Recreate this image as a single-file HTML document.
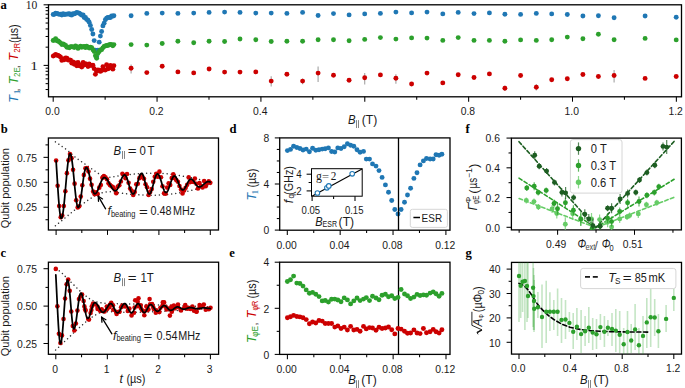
<!DOCTYPE html><html><head><meta charset="utf-8"><style>html,body{margin:0;padding:0;background:#fff;overflow:hidden}svg{display:block}</style></head><body>
<svg width="685" height="388" viewBox="0 0 685 388">
<rect width="685" height="388" fill="#fff"/>
<rect x="48.5" y="4.8" width="633" height="92" fill="none" stroke="#000" stroke-width="1.3"/>
<line x1="53.2" y1="96.8" x2="53.2" y2="101.7" stroke="#000" stroke-width="1.05" />
<line x1="105.13" y1="96.8" x2="105.13" y2="99.7" stroke="#000" stroke-width="1.05" />
<line x1="157.06" y1="96.8" x2="157.06" y2="101.7" stroke="#000" stroke-width="1.05" />
<line x1="208.99" y1="96.8" x2="208.99" y2="99.7" stroke="#000" stroke-width="1.05" />
<line x1="260.92" y1="96.8" x2="260.92" y2="101.7" stroke="#000" stroke-width="1.05" />
<line x1="312.85" y1="96.8" x2="312.85" y2="99.7" stroke="#000" stroke-width="1.05" />
<line x1="364.78" y1="96.8" x2="364.78" y2="101.7" stroke="#000" stroke-width="1.05" />
<line x1="416.71" y1="96.8" x2="416.71" y2="99.7" stroke="#000" stroke-width="1.05" />
<line x1="468.64" y1="96.8" x2="468.64" y2="101.7" stroke="#000" stroke-width="1.05" />
<line x1="520.57" y1="96.8" x2="520.57" y2="99.7" stroke="#000" stroke-width="1.05" />
<line x1="572.5" y1="96.8" x2="572.5" y2="101.7" stroke="#000" stroke-width="1.05" />
<line x1="624.43" y1="96.8" x2="624.43" y2="99.7" stroke="#000" stroke-width="1.05" />
<line x1="676.36" y1="96.8" x2="676.36" y2="101.7" stroke="#000" stroke-width="1.05" />
<line x1="43.6" y1="4.8" x2="48.5" y2="4.8" stroke="#000" stroke-width="1.05" />
<line x1="43.6" y1="65.4" x2="48.5" y2="65.4" stroke="#000" stroke-width="1.05" />
<line x1="45.6" y1="47.16" x2="48.5" y2="47.16" stroke="#000" stroke-width="1.05" />
<line x1="45.6" y1="36.49" x2="48.5" y2="36.49" stroke="#000" stroke-width="1.05" />
<line x1="45.6" y1="28.92" x2="48.5" y2="28.92" stroke="#000" stroke-width="1.05" />
<line x1="45.6" y1="23.04" x2="48.5" y2="23.04" stroke="#000" stroke-width="1.05" />
<line x1="45.6" y1="18.24" x2="48.5" y2="18.24" stroke="#000" stroke-width="1.05" />
<line x1="45.6" y1="14.19" x2="48.5" y2="14.19" stroke="#000" stroke-width="1.05" />
<line x1="45.6" y1="10.67" x2="48.5" y2="10.67" stroke="#000" stroke-width="1.05" />
<line x1="45.6" y1="7.57" x2="48.5" y2="7.57" stroke="#000" stroke-width="1.05" />
<line x1="45.6" y1="89.52" x2="48.5" y2="89.52" stroke="#000" stroke-width="1.05" />
<line x1="45.6" y1="83.64" x2="48.5" y2="83.64" stroke="#000" stroke-width="1.05" />
<line x1="45.6" y1="78.84" x2="48.5" y2="78.84" stroke="#000" stroke-width="1.05" />
<line x1="45.6" y1="74.79" x2="48.5" y2="74.79" stroke="#000" stroke-width="1.05" />
<line x1="45.6" y1="71.27" x2="48.5" y2="71.27" stroke="#000" stroke-width="1.05" />
<line x1="45.6" y1="68.17" x2="48.5" y2="68.17" stroke="#000" stroke-width="1.05" />
<text transform="translate(52.5 115.1) scale(0.9 1)" text-anchor="middle" font-family='"Liberation Sans", sans-serif' font-size="11.5" font-weight="normal" fill="#1a1a1a"  id="t1">0.0</text>
<text transform="translate(156.36 115.1) scale(0.9 1)" text-anchor="middle" font-family='"Liberation Sans", sans-serif' font-size="11.5" font-weight="normal" fill="#1a1a1a"  id="t2">0.2</text>
<text transform="translate(260.22 115.1) scale(0.9 1)" text-anchor="middle" font-family='"Liberation Sans", sans-serif' font-size="11.5" font-weight="normal" fill="#1a1a1a"  id="t3">0.4</text>
<text transform="translate(467.94 115.1) scale(0.9 1)" text-anchor="middle" font-family='"Liberation Sans", sans-serif' font-size="11.5" font-weight="normal" fill="#1a1a1a"  id="t4">0.8</text>
<text transform="translate(571.8 115.1) scale(0.9 1)" text-anchor="middle" font-family='"Liberation Sans", sans-serif' font-size="11.5" font-weight="normal" fill="#1a1a1a"  id="t5">1.0</text>
<text transform="translate(675.66 115.1) scale(0.9 1)" text-anchor="middle" font-family='"Liberation Sans", sans-serif' font-size="11.5" font-weight="normal" fill="#1a1a1a"  id="t6">1.2</text>
<text transform="translate(37.4 9.2)" text-anchor="end" font-family='"Liberation Serif", serif' font-size="11.6" font-weight="normal" fill="#1a1a1a"  id="t7">10</text>
<text transform="translate(37.9 69.9) scale(1.3 1)" text-anchor="end" font-family='"Liberation Serif", serif' font-size="11.8" font-weight="normal" fill="#1a1a1a"  id="t8">1</text>
<text transform="translate(348 123.7) scale(0.95 1)" text-anchor="start" font-family='"Liberation Sans", sans-serif' font-size="12.0" font-weight="normal" fill="#1a1a1a" font-style="italic"  id="t9">B</text>
<line x1="356.5" y1="120.1" x2="356.5" y2="128.02" stroke="#666" stroke-width="0.8" />
<line x1="358.5" y1="120.1" x2="358.5" y2="128.02" stroke="#666" stroke-width="0.8" />
<text transform="translate(361.8 123.7) scale(0.95 1)" text-anchor="start" font-family='"Liberation Sans", sans-serif' font-size="12.8" font-weight="normal" fill="#1a1a1a"  id="t10">(T)</text>
<text transform="translate(0.5 8.7)" text-anchor="start" font-family='"Liberation Serif", serif' font-size="12.6" font-weight="bold" fill="#000"  id="t11">a</text>
<text transform="translate(18.3 102.8) rotate(-90)" text-anchor="start" font-family='"Liberation Sans", sans-serif' font-size="12.6" font-weight="normal" fill="#1f77b4" font-style="italic"  id="t12">T</text>
<text transform="translate(20.3 94.6) rotate(-90) scale(1.15 1)" text-anchor="start" font-family='"Liberation Serif", serif' font-size="9.0" font-weight="normal" fill="#1f77b4"  id="t13">1</text>
<text transform="translate(19.4 91.4) rotate(-90)" text-anchor="start" font-family='"Liberation Sans", sans-serif' font-size="11" font-weight="normal" fill="#333"  id="t14">,</text>
<text transform="translate(18.3 84.2) rotate(-90)" text-anchor="start" font-family='"Liberation Sans", sans-serif' font-size="12.6" font-weight="normal" fill="#2ca02c" font-style="italic"  id="t15">T</text>
<text transform="translate(20.4 77) rotate(-90) scale(0.95 1)" text-anchor="start" font-family='"Liberation Sans", sans-serif' font-size="8.3" font-weight="normal" fill="#2ca02c"  id="t16">2E</text>
<text transform="translate(19.4 68.2) rotate(-90)" text-anchor="start" font-family='"Liberation Sans", sans-serif' font-size="11" font-weight="normal" fill="#333"  id="t17">,</text>
<text transform="translate(18.3 60.8) rotate(-90)" text-anchor="start" font-family='"Liberation Sans", sans-serif' font-size="12.6" font-weight="normal" fill="#cc0000" font-style="italic"  id="t18">T</text>
<text transform="translate(20.4 52.8) rotate(-90) scale(0.95 1)" text-anchor="start" font-family='"Liberation Sans", sans-serif' font-size="8.3" font-weight="normal" fill="#cc0000"  id="t19">2R</text>
<text transform="translate(18.4 43) rotate(-90) scale(0.86 1)" text-anchor="start" font-family='"Liberation Sans", sans-serif' font-size="12.4" font-weight="normal" fill="#1a1a1a"  id="t20">(µs)</text>
<line x1="131.1" y1="64.4" x2="131.1" y2="73.4" stroke="#aaaaaa" stroke-width="1.2" />
<line x1="271.2" y1="76.2" x2="271.2" y2="86.5" stroke="#aaaaaa" stroke-width="1.2" />
<line x1="302.6" y1="78.5" x2="302.6" y2="84.2" stroke="#aaaaaa" stroke-width="1.2" />
<line x1="318.1" y1="66.4" x2="318.1" y2="81.9" stroke="#aaaaaa" stroke-width="1.2" />
<line x1="364.7" y1="73.1" x2="364.7" y2="84.5" stroke="#aaaaaa" stroke-width="1.2" />
<line x1="395.9" y1="74.2" x2="395.9" y2="83.7" stroke="#aaaaaa" stroke-width="1.2" />
<line x1="614.1" y1="70.1" x2="614.1" y2="82.5" stroke="#aaaaaa" stroke-width="1.2" />
<line x1="536.3" y1="84" x2="536.3" y2="90.5" stroke="#aaaaaa" stroke-width="1.2" />
<line x1="504.9" y1="85.5" x2="504.9" y2="91" stroke="#aaaaaa" stroke-width="1.2" />
<circle cx="53.2" cy="14.57" r="2.45" fill="#1f77b4" />
<circle cx="54.42" cy="14.18" r="2.45" fill="#1f77b4" />
<circle cx="55.64" cy="13.16" r="2.45" fill="#1f77b4" />
<circle cx="56.89" cy="13.57" r="2.45" fill="#1f77b4" />
<circle cx="58.11" cy="13.89" r="2.45" fill="#1f77b4" />
<circle cx="59.33" cy="14.38" r="2.45" fill="#1f77b4" />
<circle cx="60.59" cy="14.08" r="2.45" fill="#1f77b4" />
<circle cx="61.84" cy="14.94" r="2.45" fill="#1f77b4" />
<circle cx="63.1" cy="13.79" r="2.45" fill="#1f77b4" />
<circle cx="64.36" cy="14.47" r="2.45" fill="#1f77b4" />
<circle cx="65.62" cy="14.28" r="2.45" fill="#1f77b4" />
<circle cx="66.87" cy="14.08" r="2.45" fill="#1f77b4" />
<circle cx="68.05" cy="13.98" r="2.45" fill="#1f77b4" />
<circle cx="69.31" cy="13.69" r="2.45" fill="#1f77b4" />
<circle cx="70.57" cy="14.87" r="2.45" fill="#1f77b4" />
<circle cx="71.82" cy="15.04" r="2.45" fill="#1f77b4" />
<circle cx="73" cy="13.69" r="2.45" fill="#1f77b4" />
<circle cx="74.26" cy="13.89" r="2.45" fill="#1f77b4" />
<circle cx="75.52" cy="13.34" r="2.45" fill="#1f77b4" />
<circle cx="76.77" cy="12.41" r="2.45" fill="#1f77b4" />
<circle cx="78.03" cy="12.87" r="2.45" fill="#1f77b4" />
<circle cx="79.29" cy="13.16" r="2.45" fill="#1f77b4" />
<circle cx="80.55" cy="14.28" r="2.45" fill="#1f77b4" />
<circle cx="81.76" cy="15.14" r="2.45" fill="#1f77b4" />
<circle cx="83.1" cy="14.84" r="2.45" fill="#1f77b4" />
<circle cx="84.2" cy="17.55" r="2.45" fill="#1f77b4" />
<circle cx="85.46" cy="17.55" r="2.45" fill="#1f77b4" />
<circle cx="86.64" cy="19.39" r="2.45" fill="#1f77b4" />
<circle cx="88.01" cy="20.28" r="2.45" fill="#1f77b4" />
<circle cx="89.19" cy="22.2" r="2.45" fill="#1f77b4" />
<circle cx="90.41" cy="25.39" r="2.45" fill="#1f77b4" />
<circle cx="91.7" cy="29.43" r="2.45" fill="#1f77b4" />
<circle cx="92.92" cy="34.07" r="2.45" fill="#1f77b4" />
<circle cx="94.18" cy="40.58" r="2.45" fill="#1f77b4" />
<circle cx="95.4" cy="50.12" r="2.45" fill="#1f77b4" />
<circle cx="96.66" cy="56.6" r="2.45" fill="#1f77b4" />
<circle cx="97.87" cy="50.12" r="2.45" fill="#1f77b4" />
<circle cx="99.21" cy="42.13" r="2.45" fill="#1f77b4" />
<circle cx="100.39" cy="36.09" r="2.45" fill="#1f77b4" />
<circle cx="101.61" cy="31.43" r="2.45" fill="#1f77b4" />
<circle cx="102.9" cy="25.9" r="2.45" fill="#1f77b4" />
<circle cx="104.12" cy="23.15" r="2.45" fill="#1f77b4" />
<circle cx="105.34" cy="19.79" r="2.45" fill="#1f77b4" />
<circle cx="106.63" cy="18.23" r="2.45" fill="#1f77b4" />
<circle cx="107.85" cy="17.33" r="2.45" fill="#1f77b4" />
<circle cx="109.27" cy="17.51" r="2.45" fill="#1f77b4" />
<circle cx="110.49" cy="17.51" r="2.45" fill="#1f77b4" />
<circle cx="111.59" cy="15.97" r="2.45" fill="#1f77b4" />
<circle cx="112.8" cy="16.14" r="2.45" fill="#1f77b4" />
<circle cx="113.9" cy="15.79" r="2.45" fill="#1f77b4" />
<circle cx="131.1" cy="15.7" r="2.45" fill="#1f77b4" />
<circle cx="146.8" cy="13.4" r="2.45" fill="#1f77b4" />
<circle cx="162.2" cy="13.1" r="2.45" fill="#1f77b4" />
<circle cx="177.9" cy="13.4" r="2.45" fill="#1f77b4" />
<circle cx="193.7" cy="13.1" r="2.45" fill="#1f77b4" />
<circle cx="209.1" cy="12.4" r="2.45" fill="#1f77b4" />
<circle cx="224.6" cy="12.1" r="2.45" fill="#1f77b4" />
<circle cx="240" cy="12.4" r="2.45" fill="#1f77b4" />
<circle cx="255.8" cy="13.1" r="2.45" fill="#1f77b4" />
<circle cx="271.2" cy="13.1" r="2.45" fill="#1f77b4" />
<circle cx="286.9" cy="13.4" r="2.45" fill="#1f77b4" />
<circle cx="302.6" cy="12.4" r="2.45" fill="#1f77b4" />
<circle cx="318.1" cy="15.5" r="2.45" fill="#1f77b4" />
<circle cx="333.5" cy="13.6" r="2.45" fill="#1f77b4" />
<circle cx="349.1" cy="14.9" r="2.45" fill="#1f77b4" />
<circle cx="364.7" cy="13.9" r="2.45" fill="#1f77b4" />
<circle cx="380.4" cy="13.4" r="2.45" fill="#1f77b4" />
<circle cx="395.9" cy="12.1" r="2.45" fill="#1f77b4" />
<circle cx="411.6" cy="12.9" r="2.45" fill="#1f77b4" />
<circle cx="427" cy="12.1" r="2.45" fill="#1f77b4" />
<circle cx="442.8" cy="13.9" r="2.45" fill="#1f77b4" />
<circle cx="458.2" cy="12.4" r="2.45" fill="#1f77b4" />
<circle cx="474" cy="13.6" r="2.45" fill="#1f77b4" />
<circle cx="489.4" cy="12.9" r="2.45" fill="#1f77b4" />
<circle cx="504.9" cy="14.2" r="2.45" fill="#1f77b4" />
<circle cx="520.6" cy="14.4" r="2.45" fill="#1f77b4" />
<circle cx="536.3" cy="13.4" r="2.45" fill="#1f77b4" />
<circle cx="551.7" cy="13.9" r="2.45" fill="#1f77b4" />
<circle cx="567.3" cy="14.5" r="2.45" fill="#1f77b4" />
<circle cx="582.9" cy="16" r="2.45" fill="#1f77b4" />
<circle cx="598.4" cy="15.7" r="2.45" fill="#1f77b4" />
<circle cx="614.1" cy="17.8" r="2.45" fill="#1f77b4" />
<circle cx="645.1" cy="16" r="2.45" fill="#1f77b4" />
<circle cx="676.2" cy="17.3" r="2.45" fill="#1f77b4" />
<circle cx="53.2" cy="40.53" r="2.45" fill="#2ca02c" />
<circle cx="54.42" cy="39.93" r="2.45" fill="#2ca02c" />
<circle cx="55.64" cy="38.73" r="2.45" fill="#2ca02c" />
<circle cx="56.89" cy="40.82" r="2.45" fill="#2ca02c" />
<circle cx="58.11" cy="41" r="2.45" fill="#2ca02c" />
<circle cx="59.33" cy="41.9" r="2.45" fill="#2ca02c" />
<circle cx="60.59" cy="43.1" r="2.45" fill="#2ca02c" />
<circle cx="61.84" cy="44.43" r="2.45" fill="#2ca02c" />
<circle cx="63.1" cy="43.92" r="2.45" fill="#2ca02c" />
<circle cx="64.36" cy="44.68" r="2.45" fill="#2ca02c" />
<circle cx="65.62" cy="45.55" r="2.45" fill="#2ca02c" />
<circle cx="66.87" cy="47.26" r="2.45" fill="#2ca02c" />
<circle cx="68.05" cy="47.08" r="2.45" fill="#2ca02c" />
<circle cx="69.31" cy="47.68" r="2.45" fill="#2ca02c" />
<circle cx="70.57" cy="46.71" r="2.45" fill="#2ca02c" />
<circle cx="71.82" cy="46.66" r="2.45" fill="#2ca02c" />
<circle cx="73" cy="46.83" r="2.45" fill="#2ca02c" />
<circle cx="74.26" cy="47.58" r="2.45" fill="#2ca02c" />
<circle cx="75.52" cy="45.93" r="2.45" fill="#2ca02c" />
<circle cx="76.77" cy="46.61" r="2.45" fill="#2ca02c" />
<circle cx="78.03" cy="48.41" r="2.45" fill="#2ca02c" />
<circle cx="79.29" cy="47.13" r="2.45" fill="#2ca02c" />
<circle cx="80.55" cy="46.1" r="2.45" fill="#2ca02c" />
<circle cx="81.76" cy="47.29" r="2.45" fill="#2ca02c" />
<circle cx="83.1" cy="46.63" r="2.45" fill="#2ca02c" />
<circle cx="84.2" cy="46.46" r="2.45" fill="#2ca02c" />
<circle cx="85.46" cy="47.66" r="2.45" fill="#2ca02c" />
<circle cx="86.64" cy="46.25" r="2.45" fill="#2ca02c" />
<circle cx="88.01" cy="47.09" r="2.45" fill="#2ca02c" />
<circle cx="89.19" cy="48.1" r="2.45" fill="#2ca02c" />
<circle cx="90.41" cy="47.09" r="2.45" fill="#2ca02c" />
<circle cx="91.7" cy="47.73" r="2.45" fill="#2ca02c" />
<circle cx="92.92" cy="49.74" r="2.45" fill="#2ca02c" />
<circle cx="94.18" cy="51.43" r="2.45" fill="#2ca02c" />
<circle cx="95.4" cy="55.71" r="2.45" fill="#2ca02c" />
<circle cx="96.66" cy="58.26" r="2.45" fill="#2ca02c" />
<circle cx="97.87" cy="53.44" r="2.45" fill="#2ca02c" />
<circle cx="99.21" cy="51.43" r="2.45" fill="#2ca02c" />
<circle cx="100.39" cy="50.02" r="2.45" fill="#2ca02c" />
<circle cx="101.61" cy="49.66" r="2.45" fill="#2ca02c" />
<circle cx="102.9" cy="47.87" r="2.45" fill="#2ca02c" />
<circle cx="104.12" cy="46.33" r="2.45" fill="#2ca02c" />
<circle cx="105.34" cy="46.07" r="2.45" fill="#2ca02c" />
<circle cx="106.63" cy="45.57" r="2.45" fill="#2ca02c" />
<circle cx="107.85" cy="45.56" r="2.45" fill="#2ca02c" />
<circle cx="109.27" cy="44.79" r="2.45" fill="#2ca02c" />
<circle cx="110.49" cy="44.38" r="2.45" fill="#2ca02c" />
<circle cx="111.59" cy="44.74" r="2.45" fill="#2ca02c" />
<circle cx="112.8" cy="45.7" r="2.45" fill="#2ca02c" />
<circle cx="113.9" cy="44.61" r="2.45" fill="#2ca02c" />
<circle cx="131.1" cy="44.6" r="2.45" fill="#2ca02c" />
<circle cx="146.8" cy="45.1" r="2.45" fill="#2ca02c" />
<circle cx="162.2" cy="43.5" r="2.45" fill="#2ca02c" />
<circle cx="177.9" cy="41.2" r="2.45" fill="#2ca02c" />
<circle cx="193.7" cy="42.8" r="2.45" fill="#2ca02c" />
<circle cx="209.1" cy="41.2" r="2.45" fill="#2ca02c" />
<circle cx="224.6" cy="41.5" r="2.45" fill="#2ca02c" />
<circle cx="240" cy="39" r="2.45" fill="#2ca02c" />
<circle cx="255.8" cy="39.7" r="2.45" fill="#2ca02c" />
<circle cx="271.2" cy="41.5" r="2.45" fill="#2ca02c" />
<circle cx="286.9" cy="41.2" r="2.45" fill="#2ca02c" />
<circle cx="302.6" cy="41.2" r="2.45" fill="#2ca02c" />
<circle cx="318.1" cy="39.7" r="2.45" fill="#2ca02c" />
<circle cx="333.5" cy="39.7" r="2.45" fill="#2ca02c" />
<circle cx="349.1" cy="40.7" r="2.45" fill="#2ca02c" />
<circle cx="364.7" cy="39.4" r="2.45" fill="#2ca02c" />
<circle cx="380.4" cy="37.6" r="2.45" fill="#2ca02c" />
<circle cx="395.9" cy="39.1" r="2.45" fill="#2ca02c" />
<circle cx="411.6" cy="37.9" r="2.45" fill="#2ca02c" />
<circle cx="427" cy="38.1" r="2.45" fill="#2ca02c" />
<circle cx="442.8" cy="40.4" r="2.45" fill="#2ca02c" />
<circle cx="458.2" cy="37.6" r="2.45" fill="#2ca02c" />
<circle cx="474" cy="40.4" r="2.45" fill="#2ca02c" />
<circle cx="489.4" cy="40.4" r="2.45" fill="#2ca02c" />
<circle cx="504.9" cy="41.2" r="2.45" fill="#2ca02c" />
<circle cx="520.6" cy="39.9" r="2.45" fill="#2ca02c" />
<circle cx="536.3" cy="40.4" r="2.45" fill="#2ca02c" />
<circle cx="551.7" cy="39.7" r="2.45" fill="#2ca02c" />
<circle cx="567.3" cy="37.1" r="2.45" fill="#2ca02c" />
<circle cx="582.9" cy="38.7" r="2.45" fill="#2ca02c" />
<circle cx="598.4" cy="34.3" r="2.45" fill="#2ca02c" />
<circle cx="614.1" cy="39.7" r="2.45" fill="#2ca02c" />
<circle cx="645.1" cy="38.4" r="2.45" fill="#2ca02c" />
<circle cx="676.2" cy="39.9" r="2.45" fill="#2ca02c" />
<circle cx="53.2" cy="56.1" r="2.45" fill="#cc0000" />
<circle cx="54.42" cy="55.36" r="2.45" fill="#cc0000" />
<circle cx="55.64" cy="54.45" r="2.45" fill="#cc0000" />
<circle cx="56.89" cy="55.17" r="2.45" fill="#cc0000" />
<circle cx="58.11" cy="55.45" r="2.45" fill="#cc0000" />
<circle cx="59.33" cy="56.08" r="2.45" fill="#cc0000" />
<circle cx="60.59" cy="57.24" r="2.45" fill="#cc0000" />
<circle cx="61.84" cy="60.39" r="2.45" fill="#cc0000" />
<circle cx="63.1" cy="58.92" r="2.45" fill="#cc0000" />
<circle cx="64.36" cy="59.73" r="2.45" fill="#cc0000" />
<circle cx="65.62" cy="57.89" r="2.45" fill="#cc0000" />
<circle cx="66.87" cy="58.29" r="2.45" fill="#cc0000" />
<circle cx="68.05" cy="60.08" r="2.45" fill="#cc0000" />
<circle cx="69.31" cy="60.05" r="2.45" fill="#cc0000" />
<circle cx="70.57" cy="60.15" r="2.45" fill="#cc0000" />
<circle cx="71.82" cy="63.15" r="2.45" fill="#cc0000" />
<circle cx="73" cy="62" r="2.45" fill="#cc0000" />
<circle cx="74.26" cy="64.34" r="2.45" fill="#cc0000" />
<circle cx="75.52" cy="63.02" r="2.45" fill="#cc0000" />
<circle cx="76.77" cy="65.7" r="2.45" fill="#cc0000" />
<circle cx="78.03" cy="62.37" r="2.45" fill="#cc0000" />
<circle cx="79.29" cy="65.75" r="2.45" fill="#cc0000" />
<circle cx="80.55" cy="65.23" r="2.45" fill="#cc0000" />
<circle cx="81.76" cy="67.12" r="2.45" fill="#cc0000" />
<circle cx="83.1" cy="62.52" r="2.45" fill="#cc0000" />
<circle cx="84.2" cy="65" r="2.45" fill="#cc0000" />
<circle cx="85.46" cy="63.81" r="2.45" fill="#cc0000" />
<circle cx="86.64" cy="64.33" r="2.45" fill="#cc0000" />
<circle cx="88.01" cy="66.6" r="2.45" fill="#cc0000" />
<circle cx="89.19" cy="63.98" r="2.45" fill="#cc0000" />
<circle cx="90.41" cy="65.38" r="2.45" fill="#cc0000" />
<circle cx="91.7" cy="65.42" r="2.45" fill="#cc0000" />
<circle cx="92.92" cy="65.22" r="2.45" fill="#cc0000" />
<circle cx="94.18" cy="68.66" r="2.45" fill="#cc0000" />
<circle cx="95.4" cy="74.33" r="2.45" fill="#cc0000" />
<circle cx="96.66" cy="71.23" r="2.45" fill="#cc0000" />
<circle cx="97.87" cy="70" r="2.45" fill="#cc0000" />
<circle cx="99.21" cy="70.2" r="2.45" fill="#cc0000" />
<circle cx="100.39" cy="71.41" r="2.45" fill="#cc0000" />
<circle cx="101.61" cy="70.52" r="2.45" fill="#cc0000" />
<circle cx="102.9" cy="66.74" r="2.45" fill="#cc0000" />
<circle cx="104.12" cy="69.7" r="2.45" fill="#cc0000" />
<circle cx="105.34" cy="70.12" r="2.45" fill="#cc0000" />
<circle cx="106.63" cy="64.69" r="2.45" fill="#cc0000" />
<circle cx="107.85" cy="68.91" r="2.45" fill="#cc0000" />
<circle cx="109.27" cy="67.93" r="2.45" fill="#cc0000" />
<circle cx="110.49" cy="65.48" r="2.45" fill="#cc0000" />
<circle cx="111.59" cy="67.71" r="2.45" fill="#cc0000" />
<circle cx="112.8" cy="69.17" r="2.45" fill="#cc0000" />
<circle cx="113.9" cy="65.64" r="2.45" fill="#cc0000" />
<circle cx="131.1" cy="68.2" r="2.45" fill="#cc0000" />
<circle cx="146.8" cy="72.6" r="2.45" fill="#cc0000" />
<circle cx="162.2" cy="66.2" r="2.45" fill="#cc0000" />
<circle cx="177.9" cy="71.9" r="2.45" fill="#cc0000" />
<circle cx="193.7" cy="72.9" r="2.45" fill="#cc0000" />
<circle cx="209.1" cy="69" r="2.45" fill="#cc0000" />
<circle cx="224.6" cy="72.1" r="2.45" fill="#cc0000" />
<circle cx="240" cy="72.1" r="2.45" fill="#cc0000" />
<circle cx="255.8" cy="71.9" r="2.45" fill="#cc0000" />
<circle cx="271.2" cy="81.1" r="2.45" fill="#cc0000" />
<circle cx="286.9" cy="74.2" r="2.45" fill="#cc0000" />
<circle cx="302.6" cy="81.1" r="2.45" fill="#cc0000" />
<circle cx="318.1" cy="73.1" r="2.45" fill="#cc0000" />
<circle cx="333.5" cy="75.2" r="2.45" fill="#cc0000" />
<circle cx="349.1" cy="80.2" r="2.45" fill="#cc0000" />
<circle cx="364.7" cy="77.8" r="2.45" fill="#cc0000" />
<circle cx="380.4" cy="74.9" r="2.45" fill="#cc0000" />
<circle cx="395.9" cy="78.3" r="2.45" fill="#cc0000" />
<circle cx="411.6" cy="84" r="2.45" fill="#cc0000" />
<circle cx="427" cy="73.1" r="2.45" fill="#cc0000" />
<circle cx="442.8" cy="82.9" r="2.45" fill="#cc0000" />
<circle cx="458.2" cy="74.7" r="2.45" fill="#cc0000" />
<circle cx="474" cy="77.5" r="2.45" fill="#cc0000" />
<circle cx="489.4" cy="73.9" r="2.45" fill="#cc0000" />
<circle cx="504.9" cy="88.3" r="2.45" fill="#cc0000" />
<circle cx="520.6" cy="75.5" r="2.45" fill="#cc0000" />
<circle cx="536.3" cy="87.3" r="2.45" fill="#cc0000" />
<circle cx="551.7" cy="79.8" r="2.45" fill="#cc0000" />
<circle cx="567.3" cy="78.8" r="2.45" fill="#cc0000" />
<circle cx="582.9" cy="74.5" r="2.45" fill="#cc0000" />
<circle cx="598.4" cy="76.5" r="2.45" fill="#cc0000" />
<circle cx="614.1" cy="75.5" r="2.45" fill="#cc0000" />
<circle cx="645.1" cy="78.4" r="2.45" fill="#cc0000" />
<circle cx="676.2" cy="76.5" r="2.45" fill="#cc0000" />
<rect x="279.7" y="137.9" width="170.3" height="92.3" fill="none" stroke="#000" stroke-width="1.3"/>
<line x1="287.3" y1="230.2" x2="287.3" y2="235.1" stroke="#000" stroke-width="1.05" />
<line x1="313.73" y1="230.2" x2="313.73" y2="233.1" stroke="#000" stroke-width="1.05" />
<line x1="340.17" y1="230.2" x2="340.17" y2="235.1" stroke="#000" stroke-width="1.05" />
<line x1="366.6" y1="230.2" x2="366.6" y2="233.1" stroke="#000" stroke-width="1.05" />
<line x1="393.04" y1="230.2" x2="393.04" y2="235.1" stroke="#000" stroke-width="1.05" />
<line x1="419.47" y1="230.2" x2="419.47" y2="233.1" stroke="#000" stroke-width="1.05" />
<line x1="445.9" y1="230.2" x2="445.9" y2="235.1" stroke="#000" stroke-width="1.05" />
<line x1="274.8" y1="230.1" x2="279.7" y2="230.1" stroke="#000" stroke-width="1.05" />
<line x1="276.8" y1="218.57" x2="279.7" y2="218.57" stroke="#000" stroke-width="1.05" />
<line x1="276.8" y1="207.05" x2="279.7" y2="207.05" stroke="#000" stroke-width="1.05" />
<line x1="276.8" y1="195.52" x2="279.7" y2="195.52" stroke="#000" stroke-width="1.05" />
<line x1="274.8" y1="184" x2="279.7" y2="184" stroke="#000" stroke-width="1.05" />
<line x1="276.8" y1="172.47" x2="279.7" y2="172.47" stroke="#000" stroke-width="1.05" />
<line x1="276.8" y1="160.95" x2="279.7" y2="160.95" stroke="#000" stroke-width="1.05" />
<line x1="276.8" y1="149.43" x2="279.7" y2="149.43" stroke="#000" stroke-width="1.05" />
<line x1="274.8" y1="137.9" x2="279.7" y2="137.9" stroke="#000" stroke-width="1.05" />
<text transform="translate(286.6 248.5) scale(0.9 1)" text-anchor="middle" font-family='"Liberation Sans", sans-serif' font-size="11.5" font-weight="normal" fill="#1a1a1a"  id="t21">0.00</text>
<text transform="translate(339.47 248.5) scale(0.9 1)" text-anchor="middle" font-family='"Liberation Sans", sans-serif' font-size="11.5" font-weight="normal" fill="#1a1a1a"  id="t22">0.04</text>
<text transform="translate(392.34 248.5) scale(0.9 1)" text-anchor="middle" font-family='"Liberation Sans", sans-serif' font-size="11.5" font-weight="normal" fill="#1a1a1a"  id="t23">0.08</text>
<text transform="translate(445.2 248.5) scale(0.9 1)" text-anchor="middle" font-family='"Liberation Sans", sans-serif' font-size="11.5" font-weight="normal" fill="#1a1a1a"  id="t24">0.12</text>
<text transform="translate(269.3 234.3) scale(0.9 1)" text-anchor="end" font-family='"Liberation Sans", sans-serif' font-size="11.5" font-weight="normal" fill="#1a1a1a"  id="t25">0</text>
<text transform="translate(269.3 188.2) scale(0.9 1)" text-anchor="end" font-family='"Liberation Sans", sans-serif' font-size="11.5" font-weight="normal" fill="#1a1a1a"  id="t26">4</text>
<text transform="translate(269.3 142.1) scale(0.9 1)" text-anchor="end" font-family='"Liberation Sans", sans-serif' font-size="11.5" font-weight="normal" fill="#1a1a1a"  id="t27">8</text>
<text transform="translate(229.6 132.7)" text-anchor="start" font-family='"Liberation Serif", serif' font-size="12.6" font-weight="bold" fill="#000"  id="t28">d</text>
<text transform="translate(256.2 200.4) rotate(-90)" text-anchor="start" font-family='"Liberation Sans", sans-serif' font-size="12.5" font-weight="normal" fill="#1f77b4" font-style="italic"  id="t29">T</text>
<text transform="translate(258.1 194.7) rotate(-90) scale(1.15 1)" text-anchor="start" font-family='"Liberation Serif", serif' font-size="9.0" font-weight="normal" fill="#1f77b4"  id="t30">1</text>
<text transform="translate(255.6 187.6) rotate(-90) scale(0.86 1)" text-anchor="start" font-family='"Liberation Sans", sans-serif' font-size="12.6" font-weight="normal" fill="#1a1a1a"  id="t31">(µs)</text>
<circle cx="287.4" cy="150.6" r="2.45" fill="#1f77b4" />
<circle cx="290.5" cy="149.4" r="2.45" fill="#1f77b4" />
<circle cx="293.6" cy="146.2" r="2.45" fill="#1f77b4" />
<circle cx="296.8" cy="147.5" r="2.45" fill="#1f77b4" />
<circle cx="299.9" cy="148.5" r="2.45" fill="#1f77b4" />
<circle cx="303" cy="150" r="2.45" fill="#1f77b4" />
<circle cx="306.2" cy="149.1" r="2.45" fill="#1f77b4" />
<circle cx="309.4" cy="151.7" r="2.45" fill="#1f77b4" />
<circle cx="312.6" cy="148.2" r="2.45" fill="#1f77b4" />
<circle cx="315.8" cy="150.3" r="2.45" fill="#1f77b4" />
<circle cx="319" cy="149.7" r="2.45" fill="#1f77b4" />
<circle cx="322.2" cy="149.1" r="2.45" fill="#1f77b4" />
<circle cx="325.2" cy="148.8" r="2.45" fill="#1f77b4" />
<circle cx="328.4" cy="147.9" r="2.45" fill="#1f77b4" />
<circle cx="331.6" cy="151.5" r="2.45" fill="#1f77b4" />
<circle cx="334.8" cy="152" r="2.45" fill="#1f77b4" />
<circle cx="337.8" cy="147.9" r="2.45" fill="#1f77b4" />
<circle cx="341" cy="148.5" r="2.45" fill="#1f77b4" />
<circle cx="344.2" cy="146.8" r="2.45" fill="#1f77b4" />
<circle cx="347.4" cy="143.8" r="2.45" fill="#1f77b4" />
<circle cx="350.6" cy="145.3" r="2.45" fill="#1f77b4" />
<circle cx="353.8" cy="146.2" r="2.45" fill="#1f77b4" />
<circle cx="357" cy="149.7" r="2.45" fill="#1f77b4" />
<circle cx="360.1" cy="152.3" r="2.45" fill="#1f77b4" />
<circle cx="363.5" cy="151.4" r="2.45" fill="#1f77b4" />
<circle cx="366.3" cy="159.1" r="2.45" fill="#1f77b4" />
<circle cx="369.5" cy="159.1" r="2.45" fill="#1f77b4" />
<circle cx="372.5" cy="163.9" r="2.45" fill="#1f77b4" />
<circle cx="376" cy="166.1" r="2.45" fill="#1f77b4" />
<circle cx="379" cy="170.6" r="2.45" fill="#1f77b4" />
<circle cx="382.1" cy="177.4" r="2.45" fill="#1f77b4" />
<circle cx="385.4" cy="184.9" r="2.45" fill="#1f77b4" />
<circle cx="388.5" cy="192.2" r="2.45" fill="#1f77b4" />
<circle cx="391.7" cy="200.5" r="2.45" fill="#1f77b4" />
<circle cx="394.8" cy="209.5" r="2.45" fill="#1f77b4" />
<circle cx="398" cy="214" r="2.45" fill="#1f77b4" />
<circle cx="401.1" cy="209.5" r="2.45" fill="#1f77b4" />
<circle cx="404.5" cy="202.2" r="2.45" fill="#1f77b4" />
<circle cx="407.5" cy="195" r="2.45" fill="#1f77b4" />
<circle cx="410.6" cy="188.2" r="2.45" fill="#1f77b4" />
<circle cx="413.9" cy="178.4" r="2.45" fill="#1f77b4" />
<circle cx="417" cy="172.7" r="2.45" fill="#1f77b4" />
<circle cx="420.1" cy="164.9" r="2.45" fill="#1f77b4" />
<circle cx="423.4" cy="160.9" r="2.45" fill="#1f77b4" />
<circle cx="426.5" cy="158.5" r="2.45" fill="#1f77b4" />
<circle cx="430.1" cy="159" r="2.45" fill="#1f77b4" />
<circle cx="433.2" cy="159" r="2.45" fill="#1f77b4" />
<circle cx="436" cy="154.7" r="2.45" fill="#1f77b4" />
<circle cx="439.1" cy="155.2" r="2.45" fill="#1f77b4" />
<circle cx="441.9" cy="154.2" r="2.45" fill="#1f77b4" />
<line x1="398.5" y1="137.9" x2="398.5" y2="230.2" stroke="#000" stroke-width="1.3" />
<rect x="410.3" y="209.3" width="37.1" height="18.1" rx="2" ry="2" fill="#fff" fill-opacity="0.85" stroke="#d6d6d6" stroke-width="1"/>
<line x1="413.4" y1="217.5" x2="420" y2="217.5" stroke="#000" stroke-width="1.5" />
<text transform="translate(421.6 221.8) scale(0.86 1)" text-anchor="start" font-family='"Liberation Sans", sans-serif' font-size="11.6" font-weight="normal" fill="#1a1a1a"  id="t32">ESR</text>
<rect x="311.5" y="168.7" width="50.7" height="27.5" fill="#fff" stroke="#000" stroke-width="1"/>
<line x1="306.6" y1="174.2" x2="311.5" y2="174.2" stroke="#000" stroke-width="1.05" />
<line x1="308.6" y1="182.5" x2="311.5" y2="182.5" stroke="#000" stroke-width="1.05" />
<line x1="306.6" y1="190.9" x2="311.5" y2="190.9" stroke="#000" stroke-width="1.05" />
<line x1="312.1" y1="196.2" x2="312.1" y2="201.1" stroke="#000" stroke-width="1.05" />
<line x1="333.6" y1="196.2" x2="333.6" y2="199.1" stroke="#000" stroke-width="1.05" />
<line x1="355" y1="196.2" x2="355" y2="201.1" stroke="#000" stroke-width="1.05" />
<text transform="translate(301.6 178.4) scale(0.92 1)" text-anchor="end" font-family='"Liberation Sans", sans-serif' font-size="10.6" font-weight="normal" fill="#1a1a1a"  id="t33">4</text>
<text transform="translate(301.6 194.7) scale(0.92 1)" text-anchor="end" font-family='"Liberation Sans", sans-serif' font-size="10.6" font-weight="normal" fill="#1a1a1a"  id="t34">2</text>
<text transform="translate(310.9 214.3) scale(0.9 1)" text-anchor="middle" font-family='"Liberation Sans", sans-serif' font-size="10.6" font-weight="normal" fill="#1a1a1a"  id="t35">0.05</text>
<text transform="translate(354.2 214.3) scale(0.9 1)" text-anchor="middle" font-family='"Liberation Sans", sans-serif' font-size="10.6" font-weight="normal" fill="#1a1a1a"  id="t36">0.15</text>
<line x1="312.3" y1="196" x2="362" y2="168.9" stroke="#000" stroke-width="1.1" />
<circle cx="317.4" cy="193.0" r="2.3" fill="#fff" stroke="#1f77b4" stroke-width="1.1"/>
<circle cx="326.9" cy="187.8" r="2.3" fill="#fff" stroke="#1f77b4" stroke-width="1.1"/>
<circle cx="328.8" cy="185.9" r="2.3" fill="#fff" stroke="#1f77b4" stroke-width="1.1"/>
<circle cx="352.2" cy="173.8" r="2.3" fill="#fff" stroke="#1f77b4" stroke-width="1.1"/>
<text transform="translate(316 180.1)" text-anchor="start" font-family='"Liberation Serif", serif' font-size="11.8" font-weight="normal" fill="#1a1a1a"  id="t37">g</text>
<text transform="translate(321.9 181)" text-anchor="start" font-family='"Liberation Serif", serif' font-size="12.5" font-weight="normal" fill="#666"  id="t38">=</text>
<text transform="translate(330.8 180.1) scale(0.95 1)" text-anchor="start" font-family='"Liberation Serif", serif' font-size="11.8" font-weight="normal" fill="#1a1a1a"  id="t39">2</text>
<text transform="translate(315.3 225.6) scale(0.92 1)" text-anchor="start" font-family='"Liberation Sans", sans-serif' font-size="12" font-weight="normal" fill="#1a1a1a" font-style="italic"  id="t40">B</text>
<text transform="translate(322.5 227.2) scale(0.85 1)" text-anchor="start" font-family='"Liberation Sans", sans-serif' font-size="8.3" font-weight="normal" fill="#1a1a1a"  id="t41">ESR</text>
<text transform="translate(338.6 225.6) scale(0.95 1)" text-anchor="start" font-family='"Liberation Sans", sans-serif' font-size="12.8" font-weight="normal" fill="#1a1a1a"  id="t42">(T)</text>
<text transform="translate(293.2 203.2) rotate(-90)" text-anchor="start" font-family='"Liberation Sans", sans-serif' font-size="12" font-weight="normal" fill="#1a1a1a" font-style="italic"  id="t43">f</text>
<text transform="translate(294.2 198.4) rotate(-90)" text-anchor="start" font-family='"Liberation Sans", sans-serif' font-size="8.3" font-weight="normal" fill="#1a1a1a"  id="t44">q</text>
<text transform="translate(292.8 194.9) rotate(-90) scale(0.9 1)" text-anchor="start" font-family='"Liberation Sans", sans-serif' font-size="12" font-weight="normal" fill="#1a1a1a"  id="t45">(GHz)</text>
<rect x="279.6" y="262.2" width="170.4" height="92.2" fill="none" stroke="#000" stroke-width="1.3"/>
<line x1="287.4" y1="354.4" x2="287.4" y2="359.3" stroke="#000" stroke-width="1.05" />
<line x1="313.83" y1="354.4" x2="313.83" y2="357.3" stroke="#000" stroke-width="1.05" />
<line x1="340.27" y1="354.4" x2="340.27" y2="359.3" stroke="#000" stroke-width="1.05" />
<line x1="366.7" y1="354.4" x2="366.7" y2="357.3" stroke="#000" stroke-width="1.05" />
<line x1="393.14" y1="354.4" x2="393.14" y2="359.3" stroke="#000" stroke-width="1.05" />
<line x1="419.57" y1="354.4" x2="419.57" y2="357.3" stroke="#000" stroke-width="1.05" />
<line x1="446" y1="354.4" x2="446" y2="359.3" stroke="#000" stroke-width="1.05" />
<line x1="274.7" y1="354.4" x2="279.6" y2="354.4" stroke="#000" stroke-width="1.05" />
<line x1="276.7" y1="331.35" x2="279.6" y2="331.35" stroke="#000" stroke-width="1.05" />
<line x1="274.7" y1="308.3" x2="279.6" y2="308.3" stroke="#000" stroke-width="1.05" />
<line x1="276.7" y1="285.25" x2="279.6" y2="285.25" stroke="#000" stroke-width="1.05" />
<line x1="274.7" y1="262.2" x2="279.6" y2="262.2" stroke="#000" stroke-width="1.05" />
<text transform="translate(286.6 372.7) scale(0.9 1)" text-anchor="middle" font-family='"Liberation Sans", sans-serif' font-size="11.5" font-weight="normal" fill="#1a1a1a"  id="t46">0.00</text>
<text transform="translate(339.47 372.7) scale(0.9 1)" text-anchor="middle" font-family='"Liberation Sans", sans-serif' font-size="11.5" font-weight="normal" fill="#1a1a1a"  id="t47">0.04</text>
<text transform="translate(392.34 372.7) scale(0.9 1)" text-anchor="middle" font-family='"Liberation Sans", sans-serif' font-size="11.5" font-weight="normal" fill="#1a1a1a"  id="t48">0.08</text>
<text transform="translate(445.2 372.7) scale(0.9 1)" text-anchor="middle" font-family='"Liberation Sans", sans-serif' font-size="11.5" font-weight="normal" fill="#1a1a1a"  id="t49">0.12</text>
<text transform="translate(269.2 358.6) scale(0.9 1)" text-anchor="end" font-family='"Liberation Sans", sans-serif' font-size="11.5" font-weight="normal" fill="#1a1a1a"  id="t50">0</text>
<text transform="translate(269.2 312.5) scale(0.9 1)" text-anchor="end" font-family='"Liberation Sans", sans-serif' font-size="11.5" font-weight="normal" fill="#1a1a1a"  id="t51">2</text>
<text transform="translate(269.2 266.4) scale(0.9 1)" text-anchor="end" font-family='"Liberation Sans", sans-serif' font-size="11.5" font-weight="normal" fill="#1a1a1a"  id="t52">4</text>
<text transform="translate(229.3 257)" text-anchor="start" font-family='"Liberation Serif", serif' font-size="12.6" font-weight="bold" fill="#000"  id="t53">e</text>
<text transform="translate(348.3 383.8) scale(0.95 1)" text-anchor="start" font-family='"Liberation Sans", sans-serif' font-size="12.0" font-weight="normal" fill="#1a1a1a" font-style="italic"  id="t54">B</text>
<line x1="356.5" y1="380.2" x2="356.5" y2="388.12" stroke="#666" stroke-width="0.8" />
<line x1="358.5" y1="380.2" x2="358.5" y2="388.12" stroke="#666" stroke-width="0.8" />
<text transform="translate(361.3 383.8) scale(0.95 1)" text-anchor="start" font-family='"Liberation Sans", sans-serif' font-size="12.8" font-weight="normal" fill="#1a1a1a"  id="t55">(T)</text>
<text transform="translate(256 343) rotate(-90)" text-anchor="start" font-family='"Liberation Sans", sans-serif' font-size="12.5" font-weight="normal" fill="#2ca02c" font-style="italic"  id="t56">T</text>
<text transform="translate(258.2 336.8) rotate(-90)" text-anchor="start" font-family='"Liberation Sans", sans-serif' font-size="8.3" font-weight="normal" fill="#2ca02c"  id="t57">φE</text>
<text transform="translate(256.6 325.6) rotate(-90)" text-anchor="start" font-family='"Liberation Sans", sans-serif' font-size="11" font-weight="normal" fill="#333"  id="t58">,</text>
<text transform="translate(256 318.2) rotate(-90)" text-anchor="start" font-family='"Liberation Sans", sans-serif' font-size="12.5" font-weight="normal" fill="#cc0000" font-style="italic"  id="t59">T</text>
<text transform="translate(258.2 310.6) rotate(-90) scale(0.88 1)" text-anchor="start" font-family='"Liberation Sans", sans-serif' font-size="8.3" font-weight="normal" fill="#cc0000"  id="t60">φR</text>
<text transform="translate(255.6 298.5) rotate(-90) scale(0.86 1)" text-anchor="start" font-family='"Liberation Sans", sans-serif' font-size="12.6" font-weight="normal" fill="#1a1a1a"  id="t61">(µs)</text>
<line x1="398.5" y1="262.2" x2="398.5" y2="354.4" stroke="#000" stroke-width="1.3" />
<circle cx="287.4" cy="281.5" r="2.45" fill="#2ca02c" />
<circle cx="290.5" cy="279.7" r="2.45" fill="#2ca02c" />
<circle cx="293.6" cy="276.1" r="2.45" fill="#2ca02c" />
<circle cx="296.8" cy="283.1" r="2.45" fill="#2ca02c" />
<circle cx="299.9" cy="283.5" r="2.45" fill="#2ca02c" />
<circle cx="303" cy="286.1" r="2.45" fill="#2ca02c" />
<circle cx="306.2" cy="289.9" r="2.45" fill="#2ca02c" />
<circle cx="309.4" cy="293.3" r="2.45" fill="#2ca02c" />
<circle cx="312.6" cy="292.4" r="2.45" fill="#2ca02c" />
<circle cx="315.8" cy="294.2" r="2.45" fill="#2ca02c" />
<circle cx="319" cy="296.6" r="2.45" fill="#2ca02c" />
<circle cx="322.2" cy="300.9" r="2.45" fill="#2ca02c" />
<circle cx="325.2" cy="300.5" r="2.45" fill="#2ca02c" />
<circle cx="328.4" cy="302" r="2.45" fill="#2ca02c" />
<circle cx="331.6" cy="299.3" r="2.45" fill="#2ca02c" />
<circle cx="334.8" cy="299.1" r="2.45" fill="#2ca02c" />
<circle cx="337.8" cy="300" r="2.45" fill="#2ca02c" />
<circle cx="341" cy="301.7" r="2.45" fill="#2ca02c" />
<circle cx="344.2" cy="297.9" r="2.45" fill="#2ca02c" />
<circle cx="347.4" cy="299.9" r="2.45" fill="#2ca02c" />
<circle cx="350.6" cy="303.9" r="2.45" fill="#2ca02c" />
<circle cx="353.8" cy="300.9" r="2.45" fill="#2ca02c" />
<circle cx="357" cy="298" r="2.45" fill="#2ca02c" />
<circle cx="360.1" cy="300.6" r="2.45" fill="#2ca02c" />
<circle cx="363.5" cy="299.1" r="2.45" fill="#2ca02c" />
<circle cx="366.3" cy="297.6" r="2.45" fill="#2ca02c" />
<circle cx="369.5" cy="300.6" r="2.45" fill="#2ca02c" />
<circle cx="372.5" cy="296.2" r="2.45" fill="#2ca02c" />
<circle cx="376" cy="298" r="2.45" fill="#2ca02c" />
<circle cx="379" cy="299.7" r="2.45" fill="#2ca02c" />
<circle cx="382.1" cy="295.2" r="2.45" fill="#2ca02c" />
<circle cx="385.4" cy="294.3" r="2.45" fill="#2ca02c" />
<circle cx="388.5" cy="296.7" r="2.45" fill="#2ca02c" />
<circle cx="391.7" cy="295.8" r="2.45" fill="#2ca02c" />
<circle cx="394.8" cy="298.5" r="2.45" fill="#2ca02c" />
<circle cx="398" cy="297.4" r="2.45" fill="#2ca02c" />
<circle cx="401.1" cy="289.5" r="2.45" fill="#2ca02c" />
<circle cx="404.5" cy="294" r="2.45" fill="#2ca02c" />
<circle cx="407.5" cy="295.8" r="2.45" fill="#2ca02c" />
<circle cx="410.6" cy="298.5" r="2.45" fill="#2ca02c" />
<circle cx="413.9" cy="297.1" r="2.45" fill="#2ca02c" />
<circle cx="417" cy="294.4" r="2.45" fill="#2ca02c" />
<circle cx="420.1" cy="295.5" r="2.45" fill="#2ca02c" />
<circle cx="423.4" cy="294.9" r="2.45" fill="#2ca02c" />
<circle cx="426.5" cy="295.3" r="2.45" fill="#2ca02c" />
<circle cx="430.1" cy="293.1" r="2.45" fill="#2ca02c" />
<circle cx="433.2" cy="291.9" r="2.45" fill="#2ca02c" />
<circle cx="436" cy="293.7" r="2.45" fill="#2ca02c" />
<circle cx="439.1" cy="296.2" r="2.45" fill="#2ca02c" />
<circle cx="441.9" cy="293.4" r="2.45" fill="#2ca02c" />
<circle cx="287.4" cy="317.8" r="2.45" fill="#cc0000" />
<circle cx="290.5" cy="316.7" r="2.45" fill="#cc0000" />
<circle cx="293.6" cy="315.4" r="2.45" fill="#cc0000" />
<circle cx="296.8" cy="316.5" r="2.45" fill="#cc0000" />
<circle cx="299.9" cy="316.9" r="2.45" fill="#cc0000" />
<circle cx="303" cy="317.8" r="2.45" fill="#cc0000" />
<circle cx="306.2" cy="319.6" r="2.45" fill="#cc0000" />
<circle cx="309.4" cy="323.8" r="2.45" fill="#cc0000" />
<circle cx="312.6" cy="322" r="2.45" fill="#cc0000" />
<circle cx="315.8" cy="323" r="2.45" fill="#cc0000" />
<circle cx="319" cy="320.5" r="2.45" fill="#cc0000" />
<circle cx="322.2" cy="321.1" r="2.45" fill="#cc0000" />
<circle cx="325.2" cy="323.5" r="2.45" fill="#cc0000" />
<circle cx="328.4" cy="323.5" r="2.45" fill="#cc0000" />
<circle cx="331.6" cy="323.5" r="2.45" fill="#cc0000" />
<circle cx="334.8" cy="327.1" r="2.45" fill="#cc0000" />
<circle cx="337.8" cy="325.9" r="2.45" fill="#cc0000" />
<circle cx="341" cy="328.5" r="2.45" fill="#cc0000" />
<circle cx="344.2" cy="327.1" r="2.45" fill="#cc0000" />
<circle cx="347.4" cy="330" r="2.45" fill="#cc0000" />
<circle cx="350.6" cy="326.4" r="2.45" fill="#cc0000" />
<circle cx="353.8" cy="330" r="2.45" fill="#cc0000" />
<circle cx="357" cy="329.4" r="2.45" fill="#cc0000" />
<circle cx="360.1" cy="331.2" r="2.45" fill="#cc0000" />
<circle cx="363.5" cy="326.4" r="2.45" fill="#cc0000" />
<circle cx="366.3" cy="328.9" r="2.45" fill="#cc0000" />
<circle cx="369.5" cy="327.6" r="2.45" fill="#cc0000" />
<circle cx="372.5" cy="328" r="2.45" fill="#cc0000" />
<circle cx="376" cy="330.3" r="2.45" fill="#cc0000" />
<circle cx="379" cy="327.3" r="2.45" fill="#cc0000" />
<circle cx="382.1" cy="328.5" r="2.45" fill="#cc0000" />
<circle cx="385.4" cy="328" r="2.45" fill="#cc0000" />
<circle cx="388.5" cy="327" r="2.45" fill="#cc0000" />
<circle cx="391.7" cy="329.8" r="2.45" fill="#cc0000" />
<circle cx="394.8" cy="333.9" r="2.45" fill="#cc0000" />
<circle cx="398" cy="328.5" r="2.45" fill="#cc0000" />
<circle cx="401.1" cy="329.1" r="2.45" fill="#cc0000" />
<circle cx="404.5" cy="331.2" r="2.45" fill="#cc0000" />
<circle cx="407.5" cy="333.3" r="2.45" fill="#cc0000" />
<circle cx="410.6" cy="333" r="2.45" fill="#cc0000" />
<circle cx="413.9" cy="329.9" r="2.45" fill="#cc0000" />
<circle cx="417" cy="333" r="2.45" fill="#cc0000" />
<circle cx="420.1" cy="333.6" r="2.45" fill="#cc0000" />
<circle cx="423.4" cy="328.5" r="2.45" fill="#cc0000" />
<circle cx="426.5" cy="332.7" r="2.45" fill="#cc0000" />
<circle cx="430.1" cy="331.8" r="2.45" fill="#cc0000" />
<circle cx="433.2" cy="329.4" r="2.45" fill="#cc0000" />
<circle cx="436" cy="331.7" r="2.45" fill="#cc0000" />
<circle cx="439.1" cy="333" r="2.45" fill="#cc0000" />
<circle cx="441.9" cy="329.7" r="2.45" fill="#cc0000" />
<rect x="48.4" y="138" width="170.1" height="92" fill="none" stroke="#000" stroke-width="1.3"/>
<line x1="56.1" y1="230" x2="56.1" y2="234.9" stroke="#000" stroke-width="1.05" />
<line x1="81.8" y1="230" x2="81.8" y2="232.9" stroke="#000" stroke-width="1.05" />
<line x1="107.5" y1="230" x2="107.5" y2="234.9" stroke="#000" stroke-width="1.05" />
<line x1="133.2" y1="230" x2="133.2" y2="232.9" stroke="#000" stroke-width="1.05" />
<line x1="158.9" y1="230" x2="158.9" y2="234.9" stroke="#000" stroke-width="1.05" />
<line x1="184.6" y1="230" x2="184.6" y2="232.9" stroke="#000" stroke-width="1.05" />
<line x1="210.3" y1="230" x2="210.3" y2="234.9" stroke="#000" stroke-width="1.05" />
<line x1="43.5" y1="207.25" x2="48.4" y2="207.25" stroke="#000" stroke-width="1.05" />
<line x1="43.5" y1="182.3" x2="48.4" y2="182.3" stroke="#000" stroke-width="1.05" />
<line x1="43.5" y1="157.35" x2="48.4" y2="157.35" stroke="#000" stroke-width="1.05" />
<line x1="45.5" y1="219.73" x2="48.4" y2="219.73" stroke="#000" stroke-width="1.05" />
<line x1="45.5" y1="194.78" x2="48.4" y2="194.78" stroke="#000" stroke-width="1.05" />
<line x1="45.5" y1="169.83" x2="48.4" y2="169.83" stroke="#000" stroke-width="1.05" />
<line x1="45.5" y1="144.88" x2="48.4" y2="144.88" stroke="#000" stroke-width="1.05" />
<text transform="translate(37.1 211.45) scale(0.9 1)" text-anchor="end" font-family='"Liberation Sans", sans-serif' font-size="11.5" font-weight="normal" fill="#1a1a1a"  id="t62">0.25</text>
<text transform="translate(37.1 186.5) scale(0.9 1)" text-anchor="end" font-family='"Liberation Sans", sans-serif' font-size="11.5" font-weight="normal" fill="#1a1a1a"  id="t63">0.50</text>
<text transform="translate(37.1 161.55) scale(0.9 1)" text-anchor="end" font-family='"Liberation Sans", sans-serif' font-size="11.5" font-weight="normal" fill="#1a1a1a"  id="t64">0.75</text>
<polyline points="55.4,141.9 56.75,142.83 58.65,144.12 60.89,145.65 63.24,147.28 65.48,148.87 67.4,150.3 68.96,151.57 70.34,152.79 71.61,153.98 72.85,155.14 74.16,156.31 75.6,157.5 77.2,158.7 78.88,159.9 80.62,161.09 82.39,162.29 84.16,163.49 85.9,164.7 87.65,165.94 89.44,167.23 91.24,168.52 92.99,169.78 94.66,170.95 96.2,172 97.6,172.94 98.89,173.81 100.09,174.61 101.24,175.31 102.36,175.91 103.5,176.4 104.61,176.76 105.67,177.01 106.71,177.15 107.75,177.21 108.84,177.22 110,177.2 111.22,177.12 112.48,176.95 113.78,176.73 115.13,176.48 116.53,176.23 118,176 119.45,175.79 120.85,175.58 122.31,175.37 123.93,175.15 125.79,174.93 128,174.7 130.65,174.44 133.67,174.14 136.94,173.84 140.33,173.56 143.73,173.34 147,173.2 150.17,173.14 153.33,173.13 156.5,173.17 159.67,173.28 162.83,173.45 166,173.7 169.17,174.03 172.33,174.46 175.5,174.94 178.67,175.48 181.83,176.04 185,176.6 188.31,177.21 191.79,177.9 195.28,178.61 198.59,179.29 201.55,179.91 204,180.4 205.89,180.76 207.36,181.04 208.49,181.24 209.35,181.39 210.03,181.5 210.6,181.6" fill="none" stroke="#333" stroke-width="1.5" stroke-linejoin="round" stroke-linecap="round" stroke-dasharray="0.01 4.1" stroke-linecap="round"/>
<polyline points="55.4,225.8 56.01,225.3 56.76,224.69 57.69,223.92 58.84,222.97 60.27,221.81 62,220.4 64.14,218.64 66.69,216.54 69.49,214.22 72.44,211.82 75.38,209.47 78.2,207.3 80.99,205.22 83.88,203.11 86.77,201.06 89.57,199.13 92.18,197.42 94.5,196 96.49,194.92 98.23,194.12 99.77,193.53 101.2,193.09 102.58,192.74 104,192.4 105.33,192.09 106.48,191.87 107.59,191.74 108.8,191.68 110.22,191.7 112,191.8 114.17,192.02 116.63,192.36 119.31,192.79 122.15,193.24 125.07,193.66 128,194 130.99,194.28 134.11,194.54 137.31,194.78 140.56,194.97 143.8,195.12 147,195.2 150.17,195.23 153.33,195.21 156.5,195.15 159.67,195.03 162.83,194.85 166,194.6 169.17,194.28 172.33,193.9 175.5,193.46 178.67,192.96 181.83,192.41 185,191.8 188.31,191.09 191.79,190.26 195.28,189.38 198.59,188.5 201.55,187.68 204,187 205.89,186.43 207.36,185.93 208.49,185.5 209.35,185.13 210.03,184.83 210.6,184.6" fill="none" stroke="#333" stroke-width="1.5" stroke-linejoin="round" stroke-linecap="round" stroke-dasharray="0.01 4.1" stroke-linecap="round"/>
<circle cx="56.1" cy="160.53" r="2.3" fill="#cc0000" />
<circle cx="57.64" cy="185.73" r="2.3" fill="#cc0000" />
<circle cx="59.18" cy="205.95" r="2.3" fill="#cc0000" />
<circle cx="60.73" cy="217.14" r="2.3" fill="#cc0000" />
<circle cx="62.27" cy="215.56" r="2.3" fill="#cc0000" />
<circle cx="63.81" cy="206.06" r="2.3" fill="#cc0000" />
<circle cx="65.35" cy="191.21" r="2.3" fill="#cc0000" />
<circle cx="66.89" cy="173.17" r="2.3" fill="#cc0000" />
<circle cx="68.44" cy="160.37" r="2.3" fill="#cc0000" />
<circle cx="69.98" cy="154.08" r="2.3" fill="#cc0000" />
<circle cx="71.52" cy="158.16" r="2.3" fill="#cc0000" />
<circle cx="73.06" cy="169.81" r="2.3" fill="#cc0000" />
<circle cx="74.6" cy="183.63" r="2.3" fill="#cc0000" />
<circle cx="76.15" cy="200.19" r="2.3" fill="#cc0000" />
<circle cx="77.69" cy="207.38" r="2.3" fill="#cc0000" />
<circle cx="79.23" cy="206.33" r="2.3" fill="#cc0000" />
<circle cx="80.77" cy="196.58" r="2.3" fill="#cc0000" />
<circle cx="82.31" cy="185.21" r="2.3" fill="#cc0000" />
<circle cx="83.86" cy="174.92" r="2.3" fill="#cc0000" />
<circle cx="85.4" cy="168.24" r="2.3" fill="#cc0000" />
<circle cx="86.94" cy="168.17" r="2.3" fill="#cc0000" />
<circle cx="88.48" cy="171.5" r="2.3" fill="#cc0000" />
<circle cx="90.02" cy="178.63" r="2.3" fill="#cc0000" />
<circle cx="91.57" cy="184.83" r="2.3" fill="#cc0000" />
<circle cx="93.11" cy="191.62" r="2.3" fill="#cc0000" />
<circle cx="94.65" cy="194.17" r="2.3" fill="#cc0000" />
<circle cx="96.19" cy="192.3" r="2.3" fill="#cc0000" />
<circle cx="97.73" cy="194.06" r="2.3" fill="#cc0000" />
<circle cx="99.28" cy="187.66" r="2.3" fill="#cc0000" />
<circle cx="100.82" cy="185.04" r="2.3" fill="#cc0000" />
<circle cx="102.36" cy="177.85" r="2.3" fill="#cc0000" />
<circle cx="103.9" cy="176.04" r="2.3" fill="#cc0000" />
<circle cx="105.44" cy="177.19" r="2.3" fill="#cc0000" />
<circle cx="106.99" cy="179.18" r="2.3" fill="#cc0000" />
<circle cx="108.53" cy="183.18" r="2.3" fill="#cc0000" />
<circle cx="110.07" cy="185.16" r="2.3" fill="#cc0000" />
<circle cx="111.61" cy="186.37" r="2.3" fill="#cc0000" />
<circle cx="113.15" cy="187.41" r="2.3" fill="#cc0000" />
<circle cx="114.7" cy="189.52" r="2.3" fill="#cc0000" />
<circle cx="116.24" cy="193.16" r="2.3" fill="#cc0000" />
<circle cx="117.78" cy="186.54" r="2.3" fill="#cc0000" />
<circle cx="119.32" cy="185.21" r="2.3" fill="#cc0000" />
<circle cx="120.86" cy="181.48" r="2.3" fill="#cc0000" />
<circle cx="122.41" cy="173.75" r="2.3" fill="#cc0000" />
<circle cx="123.95" cy="175.2" r="2.3" fill="#cc0000" />
<circle cx="125.49" cy="178.28" r="2.3" fill="#cc0000" />
<circle cx="127.03" cy="174.05" r="2.3" fill="#cc0000" />
<circle cx="128.57" cy="182.73" r="2.3" fill="#cc0000" />
<circle cx="130.12" cy="188.45" r="2.3" fill="#cc0000" />
<circle cx="131.66" cy="190.78" r="2.3" fill="#cc0000" />
<circle cx="133.2" cy="194.99" r="2.3" fill="#cc0000" />
<circle cx="134.74" cy="191.93" r="2.3" fill="#cc0000" />
<circle cx="136.28" cy="184.36" r="2.3" fill="#cc0000" />
<circle cx="137.83" cy="183.68" r="2.3" fill="#cc0000" />
<circle cx="139.37" cy="178.17" r="2.3" fill="#cc0000" />
<circle cx="140.91" cy="175.81" r="2.3" fill="#cc0000" />
<circle cx="142.45" cy="177.19" r="2.3" fill="#cc0000" />
<circle cx="143.99" cy="178.73" r="2.3" fill="#cc0000" />
<circle cx="145.54" cy="184.32" r="2.3" fill="#cc0000" />
<circle cx="147.08" cy="187.19" r="2.3" fill="#cc0000" />
<circle cx="148.62" cy="194.96" r="2.3" fill="#cc0000" />
<circle cx="150.16" cy="192.11" r="2.3" fill="#cc0000" />
<circle cx="151.7" cy="189.03" r="2.3" fill="#cc0000" />
<circle cx="153.25" cy="181.76" r="2.3" fill="#cc0000" />
<circle cx="154.79" cy="176.73" r="2.3" fill="#cc0000" />
<circle cx="156.33" cy="173.72" r="2.3" fill="#cc0000" />
<circle cx="157.87" cy="176.82" r="2.3" fill="#cc0000" />
<circle cx="159.41" cy="171.66" r="2.3" fill="#cc0000" />
<circle cx="160.96" cy="177.3" r="2.3" fill="#cc0000" />
<circle cx="162.5" cy="186.27" r="2.3" fill="#cc0000" />
<circle cx="164.04" cy="193.34" r="2.3" fill="#cc0000" />
<circle cx="165.58" cy="193.66" r="2.3" fill="#cc0000" />
<circle cx="167.12" cy="187.6" r="2.3" fill="#cc0000" />
<circle cx="168.67" cy="183.19" r="2.3" fill="#cc0000" />
<circle cx="170.21" cy="185.01" r="2.3" fill="#cc0000" />
<circle cx="171.75" cy="178.11" r="2.3" fill="#cc0000" />
<circle cx="173.29" cy="174.23" r="2.3" fill="#cc0000" />
<circle cx="174.83" cy="178.25" r="2.3" fill="#cc0000" />
<circle cx="176.38" cy="180.32" r="2.3" fill="#cc0000" />
<circle cx="177.92" cy="181.76" r="2.3" fill="#cc0000" />
<circle cx="179.46" cy="185.99" r="2.3" fill="#cc0000" />
<circle cx="181" cy="189.59" r="2.3" fill="#cc0000" />
<circle cx="182.54" cy="193.41" r="2.3" fill="#cc0000" />
<circle cx="184.09" cy="190.43" r="2.3" fill="#cc0000" />
<circle cx="185.63" cy="187.87" r="2.3" fill="#cc0000" />
<circle cx="187.17" cy="184.85" r="2.3" fill="#cc0000" />
<circle cx="188.71" cy="177.4" r="2.3" fill="#cc0000" />
<circle cx="190.25" cy="182.08" r="2.3" fill="#cc0000" />
<circle cx="191.8" cy="181.43" r="2.3" fill="#cc0000" />
<circle cx="193.34" cy="181.87" r="2.3" fill="#cc0000" />
<circle cx="194.88" cy="178.53" r="2.3" fill="#cc0000" />
<circle cx="196.42" cy="183.7" r="2.3" fill="#cc0000" />
<circle cx="197.96" cy="188.48" r="2.3" fill="#cc0000" />
<circle cx="199.51" cy="182.99" r="2.3" fill="#cc0000" />
<circle cx="201.05" cy="186.03" r="2.3" fill="#cc0000" />
<circle cx="202.59" cy="187.57" r="2.3" fill="#cc0000" />
<circle cx="204.13" cy="181.07" r="2.3" fill="#cc0000" />
<circle cx="205.67" cy="186.21" r="2.3" fill="#cc0000" />
<circle cx="207.22" cy="183.03" r="2.3" fill="#cc0000" />
<circle cx="208.76" cy="181.29" r="2.3" fill="#cc0000" />
<circle cx="210.3" cy="182.85" r="2.3" fill="#cc0000" />
<polyline points="56.1,160.79 56.35,164.68 56.6,168.65 56.85,172.65 57.1,176.66 57.35,180.64 57.6,184.57 57.85,188.4 58.1,192.12 58.35,195.69 58.6,199.09 58.85,202.27 59.1,205.23 59.35,207.94 59.6,210.37 59.85,212.51 60.1,214.34 60.35,215.84 60.6,217 60.85,217.82 61.1,218.29 61.35,218.39 61.6,218.21 61.85,217.78 62.1,217.09 62.35,216.16 62.6,214.98 62.85,213.58 63.1,211.96 63.35,210.13 63.6,208.11 63.85,205.92 64.1,203.56 64.35,201.07 64.6,198.46 64.85,195.75 65.1,192.97 65.35,190.13 65.6,187.25 65.85,184.37 66.1,181.5 66.35,178.67 66.6,175.9 66.85,173.21 67.1,170.62 67.35,168.16 67.6,165.83 67.85,163.67 68.1,161.69 68.35,159.9 68.6,158.32 68.85,156.96 69.1,155.84 69.35,154.95 69.6,154.31 69.85,153.93 70.1,153.8 70.35,153.93 70.6,154.3 70.85,154.93 71.1,155.79 71.35,156.89 71.6,158.21 71.85,159.74 72.1,161.47 72.35,163.37 72.6,165.44 72.85,167.65 73.1,169.99 73.35,172.42 73.6,174.93 73.85,177.49 74.1,180.08 74.35,182.68 74.6,185.25 74.85,187.79 75.1,190.25 75.35,192.63 75.6,194.89 75.85,197.02 76.1,198.99 76.35,200.79 76.6,202.4 76.85,203.81 77.1,205 77.35,205.96 77.6,206.68 77.85,207.15 78.1,207.38 78.35,207.37 78.6,207.16 78.85,206.77 79.1,206.2 79.35,205.45 79.6,204.53 79.85,203.45 80.1,202.22 80.35,200.86 80.6,199.36 80.85,197.76 81.1,196.06 81.35,194.27 81.6,192.43 81.85,190.53 82.1,188.61 82.35,186.68 82.6,184.75 82.85,182.85 83.1,180.99 83.35,179.19 83.6,177.48 83.85,175.85 84.1,174.33 84.35,172.94 84.6,171.68 84.85,170.57 85.1,169.62 85.35,168.84 85.6,168.23 85.85,167.8 86.1,167.56 86.35,167.5 86.6,167.58 86.85,167.77 87.1,168.07 87.35,168.48 87.6,168.99 87.85,169.6 88.1,170.3 88.35,171.1 88.6,171.97 88.85,172.92 89.1,173.94 89.35,175.01 89.6,176.13 89.85,177.29 90.1,178.47 90.35,179.68 90.6,180.89 90.85,182.11 91.1,183.3 91.35,184.48 91.6,185.63 91.85,186.73 92.1,187.78 92.35,188.77 92.6,189.69 92.85,190.53 93.1,191.29 93.35,191.96 93.6,192.53 93.85,193 94.1,193.36 94.35,193.62 94.6,193.76 94.85,193.8 95.1,193.76 95.35,193.67 95.6,193.52 95.85,193.32 96.1,193.06 96.35,192.76 96.6,192.41 96.85,192.01 97.1,191.57 97.35,191.09 97.6,190.57 97.85,190.02 98.1,189.44 98.35,188.83 98.6,188.2 98.85,187.56 99.1,186.9 99.35,186.24 99.6,185.57 99.85,184.9 100.1,184.23 100.35,183.58 100.6,182.94 100.85,182.32 101.1,181.73 101.35,181.16 101.6,180.62 101.85,180.12 102.1,179.65 102.35,179.23 102.6,178.85 102.85,178.51 103.1,178.23 103.35,178 103.6,177.82 103.85,177.69 104.1,177.62 104.35,177.6 104.6,177.62 104.85,177.68 105.1,177.77 105.35,177.89 105.6,178.04 105.85,178.22 106.1,178.44 106.35,178.68 106.6,178.95 106.85,179.25 107.1,179.57 107.35,179.91 107.6,180.28 107.85,180.66 108.1,181.06 108.35,181.48 108.6,181.91 108.85,182.36 109.1,182.81 109.35,183.27 109.6,183.73 109.85,184.2 110.1,184.67 110.35,185.13 110.6,185.59 110.85,186.04 111.1,186.49 111.35,186.92 111.6,187.34 111.85,187.74 112.1,188.12 112.35,188.49 112.6,188.83 112.85,189.15 113.1,189.45 113.35,189.72 113.6,189.96 113.85,190.18 114.1,190.36 114.35,190.51 114.6,190.63 114.85,190.72 115.1,190.78 115.35,190.8 115.6,190.78 115.85,190.71 116.1,190.57 116.35,190.39 116.6,190.14 116.85,189.85 117.1,189.5 117.35,189.1 117.6,188.66 117.85,188.18 118.1,187.65 118.35,187.1 118.6,186.51 118.85,185.89 119.1,185.25 119.35,184.6 119.6,183.93 119.85,183.26 120.1,182.58 120.35,181.9 120.6,181.23 120.85,180.57 121.1,179.93 121.35,179.31 121.6,178.72 121.85,178.16 122.1,177.63 122.35,177.13 122.6,176.68 122.85,176.28 123.1,175.92 123.35,175.61 123.6,175.36 123.85,175.16 124.1,175.02 124.35,174.93 124.6,174.9 124.85,174.94 125.1,175.06 125.35,175.26 125.6,175.54 125.85,175.9 126.1,176.32 126.35,176.82 126.6,177.38 126.85,178 127.1,178.67 127.35,179.4 127.6,180.17 127.85,180.97 128.1,181.8 128.35,182.65 128.6,183.52 128.85,184.4 129.1,185.28 129.35,186.15 129.6,187 129.85,187.83 130.1,188.63 130.35,189.4 130.6,190.13 130.85,190.8 131.1,191.42 131.35,191.98 131.6,192.48 131.85,192.9 132.1,193.26 132.35,193.54 132.6,193.74 132.85,193.86 133.1,193.9 133.35,193.86 133.6,193.73 133.85,193.51 134.1,193.21 134.35,192.83 134.6,192.36 134.85,191.83 135.1,191.22 135.35,190.56 135.6,189.83 135.85,189.05 136.1,188.22 136.35,187.35 136.6,186.46 136.85,185.53 137.1,184.6 137.35,183.65 137.6,182.7 137.85,181.77 138.1,180.84 138.35,179.95 138.6,179.08 138.85,178.25 139.1,177.47 139.35,176.74 139.6,176.08 139.85,175.47 140.1,174.94 140.35,174.47 140.6,174.09 140.85,173.79 141.1,173.57 141.35,173.44 141.6,173.4 141.85,173.45 142.1,173.61 142.35,173.88 142.6,174.25 142.85,174.71 143.1,175.27 143.35,175.92 143.6,176.64 143.85,177.44 144.1,178.31 144.35,179.23 144.6,180.2 144.85,181.2 145.1,182.23 145.35,183.28 145.6,184.33 145.85,185.37 146.1,186.4 146.35,187.4 146.6,188.36 146.85,189.27 147.1,190.12 147.35,190.91 147.6,191.62 147.85,192.25 148.1,192.79 148.35,193.24 148.6,193.58 148.85,193.83 149.1,193.97 149.35,194 149.6,193.93 149.85,193.78 150.1,193.53 150.35,193.2 150.6,192.78 150.85,192.28 151.1,191.7 151.35,191.06 151.6,190.34 151.85,189.57 152.1,188.75 152.35,187.88 152.6,186.98 152.85,186.05 153.1,185.1 153.35,184.14 153.6,183.18 153.85,182.23 154.1,181.29 154.35,180.37 154.6,179.49 154.85,178.65 155.1,177.86 155.35,177.12 155.6,176.45 155.85,175.84 156.1,175.31 156.35,174.86 156.6,174.49 156.85,174.21 157.1,174.02 157.35,173.92 157.6,173.91 157.85,173.98 158.1,174.13 158.35,174.36 158.6,174.66 158.85,175.03 159.1,175.48 159.35,175.99 159.6,176.56 159.85,177.19 160.1,177.87 160.35,178.6 160.6,179.37 160.85,180.16 161.1,180.99 161.35,181.83 161.6,182.68 161.85,183.54 162.1,184.4 162.35,185.25 162.6,186.07 162.85,186.88 163.1,187.65 163.35,188.38 163.6,189.07 163.85,189.72 164.1,190.3 164.35,190.82 164.6,191.28 164.85,191.67 165.1,191.99 165.35,192.23 165.6,192.4 165.85,192.49 166.1,192.49 166.35,192.43 166.6,192.29 166.85,192.09 167.1,191.81 167.35,191.47 167.6,191.07 167.85,190.6 168.1,190.08 168.35,189.51 168.6,188.9 168.85,188.24 169.1,187.55 169.35,186.83 169.6,186.09 169.85,185.33 170.1,184.56 170.35,183.79 170.6,183.02 170.85,182.26 171.1,181.53 171.35,180.81 171.6,180.13 171.85,179.48 172.1,178.87 172.35,178.31 172.6,177.8 172.85,177.35 173.1,176.96 173.35,176.63 173.6,176.37 173.85,176.17 174.1,176.05 174.35,176 174.6,176.02 174.85,176.1 175.1,176.25 175.35,176.46 175.6,176.72 175.85,177.05 176.1,177.42 176.35,177.85 176.6,178.33 176.85,178.84 177.1,179.4 177.35,179.99 177.6,180.6 177.85,181.24 178.1,181.89 178.35,182.55 178.6,183.22 178.85,183.88 179.1,184.53 179.35,185.17 179.6,185.79 179.85,186.39 180.1,186.95 180.35,187.47 180.6,187.96 180.85,188.4 181.1,188.78 181.35,189.12 181.6,189.4 181.85,189.62 182.1,189.77 182.35,189.87 182.6,189.9 182.85,189.88 183.1,189.8 183.35,189.68 183.6,189.52 183.85,189.31 184.1,189.05 184.35,188.76 184.6,188.43 184.85,188.06 185.1,187.66 185.35,187.23 185.6,186.78 185.85,186.3 186.1,185.82 186.35,185.31 186.6,184.81 186.85,184.3 187.1,183.79 187.35,183.28 187.6,182.79 187.85,182.32 188.1,181.86 188.35,181.43 188.6,181.02 188.85,180.65 189.1,180.31 189.35,180 189.6,179.74 189.85,179.52 190.1,179.35 190.35,179.22 190.6,179.13 190.85,179.1 191.1,179.11 191.35,179.16 191.6,179.24 191.85,179.36 192.1,179.51 192.35,179.69 192.6,179.91 192.85,180.15 193.1,180.42 193.35,180.72 193.6,181.03 193.85,181.37 194.1,181.71 194.35,182.08 194.6,182.45 194.85,182.82 195.1,183.2 195.35,183.58 195.6,183.95 195.85,184.31 196.1,184.67 196.35,185 196.6,185.32 196.85,185.62 197.1,185.9 197.35,186.14 197.6,186.37 197.85,186.56 198.1,186.71 198.35,186.84 198.6,186.93 198.85,186.98 199.1,187 199.35,186.99 199.6,186.96 199.85,186.91 200.1,186.85 200.35,186.76 200.6,186.66 200.85,186.54 201.1,186.41 201.35,186.26 201.6,186.09 201.85,185.92 202.1,185.73 202.35,185.53 202.6,185.32 202.85,185.11 203.1,184.89 203.35,184.66 203.6,184.44 203.85,184.21 204.1,183.98 204.35,183.76 204.6,183.54 204.85,183.32 205.1,183.11 205.35,182.91 205.6,182.72 205.85,182.54 206.1,182.37 206.35,182.22 206.6,182.08 206.85,181.96 207.1,181.86 207.35,181.77 207.6,181.7 207.85,181.65 208.1,181.61 208.35,181.6 208.6,181.61 208.85,181.63 209.1,181.67 209.35,181.74 209.6,181.82 209.85,181.92 210.1,182.03" fill="none" stroke="#000" stroke-width="1.75" stroke-linejoin="round" stroke-linecap="round" />
<text transform="translate(0.7 132.7)" text-anchor="start" font-family='"Liberation Serif", serif' font-size="12.6" font-weight="bold" fill="#000"  id="t65">b</text>
<text transform="translate(9.3 228.2) rotate(-90)" text-anchor="start" font-family='"Liberation Sans", sans-serif' font-size="11.0" font-weight="normal" fill="#1a1a1a"  id="t66">Qubit population</text>
<text transform="translate(113.5 154.6) scale(0.95 1)" text-anchor="start" font-family='"Liberation Sans", sans-serif' font-size="12.0" font-weight="normal" fill="#1a1a1a" font-style="italic"  id="t67">B</text>
<line x1="122.5" y1="151" x2="122.5" y2="158.92" stroke="#666" stroke-width="0.8" />
<line x1="124.5" y1="151" x2="124.5" y2="158.92" stroke="#666" stroke-width="0.8" />
<text transform="translate(127.7 155) scale(1.12 1)" text-anchor="start" font-family='"Liberation Sans", sans-serif' font-size="13.5" font-weight="normal" fill="#1a1a1a"  id="t68">=</text>
<text transform="translate(139.4 154.6) scale(0.95 1)" text-anchor="start" font-family='"Liberation Sans", sans-serif' font-size="12" font-weight="normal" fill="#1a1a1a"  id="t69">0</text>
<text transform="translate(147.6 154.6) scale(0.95 1)" text-anchor="start" font-family='"Liberation Sans", sans-serif' font-size="12" font-weight="normal" fill="#1a1a1a"  id="t70">T</text>
<text transform="translate(107.6 215.4)" text-anchor="start" font-family='"Liberation Sans", sans-serif' font-size="12.3" font-weight="normal" fill="#1a1a1a" font-style="italic"  id="t71">f</text>
<text transform="translate(110.9 217.2) scale(0.87 1)" text-anchor="start" font-family='"Liberation Sans", sans-serif' font-size="8.6" font-weight="normal" fill="#1a1a1a"  id="t72">beating</text>
<text transform="translate(138.9 215.8) scale(1.12 1)" text-anchor="start" font-family='"Liberation Sans", sans-serif' font-size="13.5" font-weight="normal" fill="#1a1a1a"  id="t73">=</text>
<text transform="translate(150.6 215.4) scale(0.9 1)" text-anchor="start" font-family='"Liberation Sans", sans-serif' font-size="12" font-weight="normal" fill="#1a1a1a"  id="t74">0.48</text>
<text transform="translate(173 215.4) scale(0.9 1)" text-anchor="start" font-family='"Liberation Sans", sans-serif' font-size="12" font-weight="normal" fill="#1a1a1a"  id="t75">MHz</text>
<line x1="105.6" y1="208.8" x2="98.3" y2="196.3" stroke="#000" stroke-width="1.3" stroke-linecap="round"/>
<line x1="98.3" y1="196.3" x2="102.55" y2="198.93" stroke="#000" stroke-width="1.3" stroke-linecap="round"/>
<line x1="98.3" y1="196.3" x2="98.5" y2="201.3" stroke="#000" stroke-width="1.3" stroke-linecap="round"/>
<rect x="48.4" y="262.2" width="170.2" height="92.1" fill="none" stroke="#000" stroke-width="1.3"/>
<line x1="55.8" y1="354.3" x2="55.8" y2="359.2" stroke="#000" stroke-width="1.05" />
<line x1="81.56" y1="354.3" x2="81.56" y2="357.2" stroke="#000" stroke-width="1.05" />
<line x1="107.33" y1="354.3" x2="107.33" y2="359.2" stroke="#000" stroke-width="1.05" />
<line x1="133.09" y1="354.3" x2="133.09" y2="357.2" stroke="#000" stroke-width="1.05" />
<line x1="158.86" y1="354.3" x2="158.86" y2="359.2" stroke="#000" stroke-width="1.05" />
<line x1="184.62" y1="354.3" x2="184.62" y2="357.2" stroke="#000" stroke-width="1.05" />
<line x1="210.39" y1="354.3" x2="210.39" y2="359.2" stroke="#000" stroke-width="1.05" />
<line x1="43.5" y1="343.5" x2="48.4" y2="343.5" stroke="#000" stroke-width="1.05" />
<line x1="43.5" y1="306.1" x2="48.4" y2="306.1" stroke="#000" stroke-width="1.05" />
<line x1="43.5" y1="268.7" x2="48.4" y2="268.7" stroke="#000" stroke-width="1.05" />
<line x1="45.5" y1="324.8" x2="48.4" y2="324.8" stroke="#000" stroke-width="1.05" />
<line x1="45.5" y1="287.4" x2="48.4" y2="287.4" stroke="#000" stroke-width="1.05" />
<text transform="translate(37.1 347.7) scale(0.9 1)" text-anchor="end" font-family='"Liberation Sans", sans-serif' font-size="11.5" font-weight="normal" fill="#1a1a1a"  id="t76">0.25</text>
<text transform="translate(37.1 310.3) scale(0.9 1)" text-anchor="end" font-family='"Liberation Sans", sans-serif' font-size="11.5" font-weight="normal" fill="#1a1a1a"  id="t77">0.50</text>
<text transform="translate(37.1 272.9) scale(0.9 1)" text-anchor="end" font-family='"Liberation Sans", sans-serif' font-size="11.5" font-weight="normal" fill="#1a1a1a"  id="t78">0.75</text>
<text transform="translate(55.1 372.6) scale(0.9 1)" text-anchor="middle" font-family='"Liberation Sans", sans-serif' font-size="11.5" font-weight="normal" fill="#1a1a1a"  id="t79">0</text>
<text transform="translate(106.63 372.6) scale(0.9 1)" text-anchor="middle" font-family='"Liberation Sans", sans-serif' font-size="11.5" font-weight="normal" fill="#1a1a1a"  id="t80">1</text>
<text transform="translate(158.16 372.6) scale(0.9 1)" text-anchor="middle" font-family='"Liberation Sans", sans-serif' font-size="11.5" font-weight="normal" fill="#1a1a1a"  id="t81">2</text>
<text transform="translate(209.69 372.6) scale(0.9 1)" text-anchor="middle" font-family='"Liberation Sans", sans-serif' font-size="11.5" font-weight="normal" fill="#1a1a1a"  id="t82">3</text>
<polyline points="55.8,268.6 56.39,268.99 57.21,269.5 58.18,270.13 59.22,270.82 60.25,271.55 61.2,272.3 62.04,273.06 62.84,273.85 63.63,274.68 64.45,275.56 65.33,276.5 66.3,277.5 67.41,278.61 68.65,279.83 69.95,281.11 71.25,282.38 72.49,283.6 73.6,284.7 74.55,285.66 75.39,286.51 76.16,287.31 76.93,288.1 77.75,288.91 78.7,289.8 79.78,290.79 80.94,291.84 82.17,292.92 83.42,294 84.68,295.04 85.9,296 87.1,296.9 88.31,297.78 89.52,298.62 90.72,299.4 91.92,300.1 93.1,300.7 94.27,301.19 95.43,301.59 96.59,301.9 97.73,302.16 98.87,302.39 100,302.6 100.92,302.79 101.6,302.92 102.27,303.02 103.17,303.11 104.53,303.2 106.6,303.3 109.45,303.41 112.91,303.52 116.84,303.63 121.09,303.74 125.52,303.87 130,304 134.62,304.15 139.51,304.31 144.59,304.48 149.76,304.66 154.92,304.83 160,305 165.12,305.17 170.38,305.34 175.64,305.51 180.76,305.67 185.6,305.84 190,306 194.11,306.17 198.06,306.34 201.72,306.51 204.97,306.67 207.68,306.8 209.7,306.9" fill="none" stroke="#333" stroke-width="1.5" stroke-linejoin="round" stroke-linecap="round" stroke-dasharray="0.01 4.1" stroke-linecap="round"/>
<polyline points="55.6,350 56.79,348.88 58.43,347.33 60.38,345.49 62.48,343.5 64.6,341.49 66.6,339.6 68.5,337.79 70.42,335.94 72.36,334.07 74.31,332.21 76.26,330.38 78.2,328.6 80.16,326.84 82.15,325.06 84.14,323.31 86.1,321.63 88,320.08 89.8,318.7 91.5,317.48 93.11,316.39 94.67,315.43 96.17,314.57 97.65,313.83 99.1,313.2 100.35,312.69 101.34,312.33 102.31,312.07 103.46,311.9 105.01,311.78 107.2,311.7 110.07,311.69 113.44,311.8 117.23,311.96 121.32,312.13 125.61,312.26 130,312.3 134.58,312.26 139.47,312.17 144.55,312.04 149.73,311.89 154.92,311.7 160,311.5 165.12,311.26 170.38,310.98 175.64,310.67 180.76,310.36 185.6,310.06 190,309.8 194.11,309.57 198.06,309.35 201.72,309.14 204.97,308.96 207.68,308.81 209.7,308.7" fill="none" stroke="#333" stroke-width="1.5" stroke-linejoin="round" stroke-linecap="round" stroke-dasharray="0.01 4.1" stroke-linecap="round"/>
<circle cx="55.8" cy="268.9" r="2.3" fill="#cc0000" />
<circle cx="57.35" cy="306.34" r="2.3" fill="#cc0000" />
<circle cx="58.89" cy="333.78" r="2.3" fill="#cc0000" />
<circle cx="60.44" cy="342.97" r="2.3" fill="#cc0000" />
<circle cx="61.98" cy="335.4" r="2.3" fill="#cc0000" />
<circle cx="63.53" cy="318.98" r="2.3" fill="#cc0000" />
<circle cx="65.08" cy="298.44" r="2.3" fill="#cc0000" />
<circle cx="66.62" cy="284.25" r="2.3" fill="#cc0000" />
<circle cx="68.17" cy="279.51" r="2.3" fill="#cc0000" />
<circle cx="69.71" cy="290.84" r="2.3" fill="#cc0000" />
<circle cx="71.26" cy="311.5" r="2.3" fill="#cc0000" />
<circle cx="72.8" cy="326.01" r="2.3" fill="#cc0000" />
<circle cx="74.35" cy="330.47" r="2.3" fill="#cc0000" />
<circle cx="75.9" cy="323.44" r="2.3" fill="#cc0000" />
<circle cx="77.44" cy="310.58" r="2.3" fill="#cc0000" />
<circle cx="78.99" cy="298.98" r="2.3" fill="#cc0000" />
<circle cx="80.53" cy="296.43" r="2.3" fill="#cc0000" />
<circle cx="82.08" cy="294.59" r="2.3" fill="#cc0000" />
<circle cx="83.63" cy="300.93" r="2.3" fill="#cc0000" />
<circle cx="85.17" cy="309.18" r="2.3" fill="#cc0000" />
<circle cx="88.26" cy="319.03" r="2.3" fill="#cc0000" />
<circle cx="91.36" cy="310.12" r="2.3" fill="#cc0000" />
<circle cx="94.45" cy="304.18" r="2.3" fill="#cc0000" />
<circle cx="97.54" cy="306.69" r="2.3" fill="#cc0000" />
<circle cx="100.63" cy="310.91" r="2.3" fill="#cc0000" />
<circle cx="103.72" cy="311.16" r="2.3" fill="#cc0000" />
<circle cx="106.81" cy="306.47" r="2.3" fill="#cc0000" />
<circle cx="109.91" cy="304.78" r="2.3" fill="#cc0000" />
<circle cx="113" cy="305.3" r="2.3" fill="#cc0000" />
<circle cx="116.09" cy="311.91" r="2.3" fill="#cc0000" />
<circle cx="119.18" cy="311.82" r="2.3" fill="#cc0000" />
<circle cx="122.27" cy="305.45" r="2.3" fill="#cc0000" />
<circle cx="125.37" cy="306.45" r="2.3" fill="#cc0000" />
<circle cx="128.46" cy="309.3" r="2.3" fill="#cc0000" />
<circle cx="131.55" cy="315.41" r="2.3" fill="#cc0000" />
<circle cx="134.64" cy="307.62" r="2.3" fill="#cc0000" />
<circle cx="137.73" cy="301.77" r="2.3" fill="#cc0000" />
<circle cx="140.82" cy="308.12" r="2.3" fill="#cc0000" />
<circle cx="143.92" cy="311.28" r="2.3" fill="#cc0000" />
<circle cx="147.01" cy="310.25" r="2.3" fill="#cc0000" />
<circle cx="150.1" cy="304.18" r="2.3" fill="#cc0000" />
<circle cx="153.19" cy="307.11" r="2.3" fill="#cc0000" />
<circle cx="156.28" cy="310.32" r="2.3" fill="#cc0000" />
<circle cx="159.38" cy="312.12" r="2.3" fill="#cc0000" />
<circle cx="162.47" cy="305.81" r="2.3" fill="#cc0000" />
<circle cx="165.56" cy="306.75" r="2.3" fill="#cc0000" />
<circle cx="168.65" cy="308.61" r="2.3" fill="#cc0000" />
<circle cx="171.74" cy="310.01" r="2.3" fill="#cc0000" />
<circle cx="174.83" cy="308.34" r="2.3" fill="#cc0000" />
<circle cx="177.93" cy="306.92" r="2.3" fill="#cc0000" />
<circle cx="181.02" cy="310.57" r="2.3" fill="#cc0000" />
<circle cx="184.11" cy="308.05" r="2.3" fill="#cc0000" />
<circle cx="187.2" cy="308.72" r="2.3" fill="#cc0000" />
<circle cx="190.29" cy="308.96" r="2.3" fill="#cc0000" />
<circle cx="193.39" cy="308.8" r="2.3" fill="#cc0000" />
<circle cx="196.48" cy="311.49" r="2.3" fill="#cc0000" />
<circle cx="199.57" cy="307.76" r="2.3" fill="#cc0000" />
<circle cx="202.66" cy="305.72" r="2.3" fill="#cc0000" />
<circle cx="205.75" cy="309.72" r="2.3" fill="#cc0000" />
<circle cx="208.84" cy="309.19" r="2.3" fill="#cc0000" />
<circle cx="84.4" cy="306.4" r="2.3" fill="#cc0000" />
<circle cx="85.6" cy="310.6" r="2.3" fill="#cc0000" />
<circle cx="89" cy="319.6" r="2.3" fill="#cc0000" />
<circle cx="90.6" cy="313" r="2.3" fill="#cc0000" />
<circle cx="91.8" cy="306.4" r="2.3" fill="#cc0000" />
<circle cx="93.1" cy="303.5" r="2.3" fill="#cc0000" />
<circle cx="97.6" cy="308.9" r="2.3" fill="#cc0000" />
<circle cx="100.1" cy="310.6" r="2.3" fill="#cc0000" />
<circle cx="101.7" cy="309.3" r="2.3" fill="#cc0000" />
<circle cx="104.6" cy="311.4" r="2.3" fill="#cc0000" />
<circle cx="107.1" cy="308.9" r="2.3" fill="#cc0000" />
<circle cx="109.2" cy="307.3" r="2.3" fill="#cc0000" />
<circle cx="111.2" cy="302.7" r="2.3" fill="#cc0000" />
<circle cx="113.3" cy="309.7" r="2.3" fill="#cc0000" />
<circle cx="116.6" cy="313.9" r="2.3" fill="#cc0000" />
<circle cx="119.5" cy="311.8" r="2.3" fill="#cc0000" />
<circle cx="121.1" cy="307.3" r="2.3" fill="#cc0000" />
<circle cx="123.7" cy="306.1" r="2.3" fill="#cc0000" />
<circle cx="127.8" cy="311" r="2.3" fill="#cc0000" />
<circle cx="129.4" cy="308.6" r="2.3" fill="#cc0000" />
<circle cx="134" cy="312.7" r="2.3" fill="#cc0000" />
<circle cx="135.2" cy="300.3" r="2.3" fill="#cc0000" />
<circle cx="138.5" cy="298.3" r="2.3" fill="#cc0000" />
<circle cx="137.7" cy="306.1" r="2.3" fill="#cc0000" />
<circle cx="140.6" cy="305.3" r="2.3" fill="#cc0000" />
<circle cx="142.2" cy="310.2" r="2.3" fill="#cc0000" />
<circle cx="144.3" cy="315.2" r="2.3" fill="#cc0000" />
<circle cx="146.3" cy="306.5" r="2.3" fill="#cc0000" />
<circle cx="148.4" cy="309.4" r="2.3" fill="#cc0000" />
<circle cx="149.6" cy="299.1" r="2.3" fill="#cc0000" />
<circle cx="152.1" cy="304" r="2.3" fill="#cc0000" />
<circle cx="153.8" cy="309" r="2.3" fill="#cc0000" />
<circle cx="155.8" cy="312.7" r="2.3" fill="#cc0000" />
<circle cx="160.4" cy="307.7" r="2.3" fill="#cc0000" />
<circle cx="162.8" cy="302.4" r="2.3" fill="#cc0000" />
<circle cx="164.1" cy="302.4" r="2.3" fill="#cc0000" />
<circle cx="166.6" cy="309.4" r="2.3" fill="#cc0000" />
<circle cx="169.9" cy="315.6" r="2.3" fill="#cc0000" />
<circle cx="171.5" cy="306.5" r="2.3" fill="#cc0000" />
<circle cx="171.8" cy="311.8" r="2.3" fill="#cc0000" />
<circle cx="173.9" cy="305.6" r="2.3" fill="#cc0000" />
<circle cx="178" cy="304.6" r="2.3" fill="#cc0000" />
<circle cx="180.6" cy="309.7" r="2.3" fill="#cc0000" />
<circle cx="185.2" cy="305.1" r="2.3" fill="#cc0000" />
<circle cx="188.3" cy="307.7" r="2.3" fill="#cc0000" />
<circle cx="192.4" cy="306.6" r="2.3" fill="#cc0000" />
<circle cx="194" cy="310.8" r="2.3" fill="#cc0000" />
<circle cx="196.5" cy="311.8" r="2.3" fill="#cc0000" />
<circle cx="199.6" cy="305.1" r="2.3" fill="#cc0000" />
<circle cx="203.8" cy="304.6" r="2.3" fill="#cc0000" />
<circle cx="206.9" cy="308.7" r="2.3" fill="#cc0000" />
<circle cx="210.5" cy="307.7" r="2.3" fill="#cc0000" />
<polyline points="55.8,274.86 56.05,279.6 56.3,284.53 56.55,289.59 56.8,294.72 57.05,299.86 57.3,304.96 57.55,309.95 57.8,314.77 58.05,319.38 58.3,323.71 58.55,327.72 58.8,331.36 59.05,334.58 59.3,337.36 59.55,339.66 59.8,341.45 60.05,342.71 60.3,343.42 60.55,343.59 60.8,343.32 61.05,342.66 61.3,341.63 61.55,340.23 61.8,338.48 62.05,336.41 62.3,334.04 62.55,331.39 62.8,328.51 63.05,325.42 63.3,322.16 63.55,318.78 63.8,315.31 64.05,311.8 64.3,308.29 64.55,304.82 64.8,301.44 65.05,298.18 65.3,295.09 65.55,292.21 65.8,289.56 66.05,287.19 66.3,285.12 66.55,283.37 66.8,281.97 67.05,280.94 67.3,280.28 67.55,280.01 67.8,280.12 68.05,280.61 68.3,281.48 68.55,282.7 68.8,284.26 69.05,286.13 69.3,288.29 69.55,290.7 69.8,293.32 70.05,296.12 70.3,299.05 70.55,302.06 70.8,305.11 71.05,308.15 71.3,311.14 71.55,314.02 71.8,316.75 72.05,319.29 72.3,321.61 72.55,323.65 72.8,325.41 73.05,326.83 73.3,327.91 73.55,328.63 73.8,328.97 74.05,328.96 74.3,328.71 74.55,328.24 74.8,327.56 75.05,326.66 75.3,325.57 75.55,324.3 75.8,322.86 76.05,321.27 76.3,319.56 76.55,317.73 76.8,315.83 77.05,313.86 77.3,311.86 77.55,309.84 77.8,307.84 78.05,305.89 78.3,304 78.55,302.19 78.8,300.5 79.05,298.94 79.3,297.53 79.55,296.3 79.8,295.24 80.05,294.39 80.3,293.75 80.55,293.32 80.8,293.12 81.05,293.13 81.3,293.32 81.55,293.67 81.8,294.18 82.05,294.84 82.3,295.66 82.55,296.6 82.8,297.67 83.05,298.84 83.3,300.11 83.55,301.45 83.8,302.85 84.05,304.29 84.3,305.75 84.55,307.21 84.8,308.65 85.05,310.05 85.3,311.39 85.55,312.66 85.8,313.83 86.05,314.9 86.3,315.84 86.55,316.66 86.8,317.32 87.05,317.83 87.3,318.18 87.55,318.37 87.8,318.39 88.05,318.31 88.3,318.13 88.55,317.86 88.8,317.51 89.05,317.07 89.3,316.55 89.55,315.96 89.8,315.31 90.05,314.6 90.3,313.84 90.55,313.04 90.8,312.21 91.05,311.36 91.3,310.5 91.55,309.64 91.8,308.79 92.05,307.96 92.3,307.16 92.55,306.4 92.8,305.69 93.05,305.04 93.3,304.45 93.55,303.93 93.8,303.49 94.05,303.14 94.3,302.87 94.55,302.69 94.8,302.61 95.05,302.61 95.3,302.66 95.55,302.75 95.8,302.89 96.05,303.07 96.3,303.3 96.55,303.56 96.8,303.86 97.05,304.19 97.3,304.55 97.55,304.94 97.8,305.36 98.05,305.79 98.3,306.24 98.55,306.7 98.8,307.17 99.05,307.64 99.3,308.11 99.55,308.57 99.8,309.02 100.05,309.46 100.3,309.88 100.55,310.27 100.8,310.64 101.05,310.98 101.3,311.28 101.55,311.55 101.8,311.78 102.05,311.97 102.3,312.12 102.55,312.23 102.8,312.29 103.05,312.3 103.3,312.27 103.55,312.19 103.8,312.08 104.05,311.92 104.3,311.72 104.55,311.48 104.8,311.21 105.05,310.9 105.3,310.56 105.55,310.2 105.8,309.81 106.05,309.41 106.3,308.99 106.55,308.56 106.8,308.13 107.05,307.69 107.3,307.25 107.55,306.82 107.8,306.41 108.05,306.01 108.3,305.63 108.55,305.27 108.8,304.94 109.05,304.64 109.3,304.37 109.55,304.14 109.8,303.95 110.05,303.8 110.3,303.69 110.55,303.62 110.8,303.6 111.05,303.63 111.3,303.73 111.55,303.88 111.8,304.1 112.05,304.37 112.3,304.69 112.55,305.06 112.8,305.48 113.05,305.93 113.3,306.41 113.55,306.92 113.8,307.45 114.05,307.98 114.3,308.52 114.55,309.06 114.8,309.58 115.05,310.08 115.3,310.56 115.55,311.01 115.8,311.41 116.05,311.78 116.3,312.09 116.55,312.35 116.8,312.55 117.05,312.7 117.3,312.78 117.55,312.8 117.8,312.76 118.05,312.67 118.3,312.52 118.55,312.33 118.8,312.08 119.05,311.79 119.3,311.45 119.55,311.08 119.8,310.67 120.05,310.23 120.3,309.77 120.55,309.29 120.8,308.8 121.05,308.3 121.3,307.8 121.55,307.3 121.8,306.82 122.05,306.35 122.3,305.9 122.55,305.48 122.8,305.09 123.05,304.74 123.3,304.43 123.55,304.17 123.8,303.95 124.05,303.78 124.3,303.67 124.55,303.61 124.8,303.61 125.05,303.66 125.3,303.78 125.55,303.96 125.8,304.2 126.05,304.49 126.3,304.83 126.55,305.22 126.8,305.66 127.05,306.12 127.3,306.62 127.55,307.13 127.8,307.66 128.05,308.2 128.3,308.74 128.55,309.27 128.8,309.78 129.05,310.28 129.3,310.74 129.55,311.18 129.8,311.57 130.05,311.91 130.3,312.2 130.55,312.44 130.8,312.62 131.05,312.74 131.3,312.79 131.55,312.79 131.8,312.72 132.05,312.59 132.3,312.4 132.55,312.15 132.8,311.84 133.05,311.49 133.3,311.09 133.55,310.65 133.8,310.18 134.05,309.68 134.3,309.16 134.55,308.63 134.8,308.09 135.05,307.56 135.3,307.03 135.55,306.51 135.8,306.03 136.05,305.57 136.3,305.14 136.55,304.76 136.8,304.43 137.05,304.15 137.3,303.92 137.55,303.75 137.8,303.65 138.05,303.6 138.3,303.62 138.55,303.72 138.8,303.88 139.05,304.11 139.3,304.41 139.55,304.76 139.8,305.17 140.05,305.62 140.3,306.12 140.55,306.64 140.8,307.19 141.05,307.76 141.3,308.33 141.55,308.89 141.8,309.45 142.05,309.98 142.3,310.48 142.55,310.94 142.8,311.36 143.05,311.73 143.3,312.03 143.55,312.28 143.8,312.46 144.05,312.56 144.3,312.6 144.55,312.57 144.8,312.47 145.05,312.31 145.3,312.1 145.55,311.82 145.8,311.5 146.05,311.13 146.3,310.72 146.55,310.27 146.8,309.8 147.05,309.31 147.3,308.8 147.55,308.3 147.8,307.79 148.05,307.31 148.3,306.84 148.55,306.4 148.8,305.99 149.05,305.63 149.3,305.32 149.55,305.05 149.8,304.85 150.05,304.7 150.3,304.62 150.55,304.6 150.8,304.63 151.05,304.7 151.3,304.82 151.55,304.98 151.8,305.17 152.05,305.4 152.3,305.66 152.55,305.96 152.8,306.28 153.05,306.62 153.3,306.97 153.55,307.34 153.8,307.72 154.05,308.1 154.3,308.48 154.55,308.85 154.8,309.21 155.05,309.56 155.3,309.88 155.55,310.18 155.8,310.45 156.05,310.69 156.3,310.89 156.55,311.05 156.8,311.18 157.05,311.26 157.3,311.3 157.55,311.29 157.8,311.25 158.05,311.17 158.3,311.05 158.55,310.9 158.8,310.71 159.05,310.49 159.3,310.24 159.55,309.97 159.8,309.68 160.05,309.37 160.3,309.05 160.55,308.72 160.8,308.38 161.05,308.05 161.3,307.72 161.55,307.41 161.8,307.1 162.05,306.82 162.3,306.56 162.55,306.32 162.8,306.11 163.05,305.94 163.3,305.8 163.55,305.69 163.8,305.63 164.05,305.6 164.3,305.61 164.55,305.65 164.8,305.73 165.05,305.83 165.3,305.96 165.55,306.12 165.8,306.31 166.05,306.52 166.3,306.74 166.55,306.99 166.8,307.24 167.05,307.51 167.3,307.78 167.55,308.06 167.8,308.33 168.05,308.6 168.3,308.86 168.55,309.11 168.8,309.34 169.05,309.55 169.3,309.74 169.55,309.91 169.8,310.05 170.05,310.16 170.3,310.24 170.55,310.28 170.8,310.3 171.05,310.29 171.3,310.25 171.55,310.2 171.8,310.12 172.05,310.02 172.3,309.9 172.55,309.76 172.8,309.61 173.05,309.44 173.3,309.26 173.55,309.07 173.8,308.88 174.05,308.68 174.3,308.48 174.55,308.28 174.8,308.09 175.05,307.9 175.3,307.73 175.55,307.56 175.8,307.41 176.05,307.28 176.3,307.16 176.55,307.07 176.8,306.99 177.05,306.94 177.3,306.91 177.55,306.9 177.8,306.91 178.05,306.94 178.3,306.99 178.55,307.06 178.8,307.14 179.05,307.24 179.3,307.35 179.55,307.47 179.8,307.6 180.05,307.73 180.3,307.88 180.55,308.02 180.8,308.17 181.05,308.31 181.3,308.45 181.55,308.58 181.8,308.71 182.05,308.82 182.3,308.92 182.55,309.01 182.8,309.08 183.05,309.14 183.3,309.18 183.55,309.2 183.8,309.2 184.05,309.19 184.3,309.17 184.55,309.14 184.8,309.09 185.05,309.04 185.3,308.98 185.55,308.91 185.8,308.83 186.05,308.75 186.3,308.66 186.55,308.57 186.8,308.48 187.05,308.38 187.3,308.29 187.55,308.19 187.8,308.1 188.05,308.02 188.3,307.94 188.55,307.86 188.8,307.8 189.05,307.74 189.3,307.69 189.55,307.65 189.8,307.62 190.05,307.61 190.3,307.6 190.55,307.6 190.8,307.62 191.05,307.63 191.3,307.66 191.55,307.69 191.8,307.73 192.05,307.78 192.3,307.82 192.55,307.88 192.8,307.94 193.05,308 193.3,308.06 193.55,308.12 193.8,308.19 194.05,308.25 194.3,308.32 194.55,308.38 194.8,308.43 195.05,308.49 195.3,308.53 195.55,308.58 195.8,308.62 196.05,308.65 196.3,308.67 196.55,308.69 196.8,308.7 197.05,308.7 197.3,308.7 197.55,308.69 197.8,308.67 198.05,308.65 198.3,308.63 198.55,308.6 198.8,308.56 199.05,308.52 199.3,308.48 199.55,308.44 199.8,308.39 200.05,308.35 200.3,308.3 200.55,308.25 200.8,308.21 201.05,308.16 201.3,308.12 201.55,308.08 201.8,308.04 202.05,308 202.3,307.97 202.55,307.95 202.8,307.93 203.05,307.91 203.3,307.9 203.55,307.9 203.8,307.9 204.05,307.91 204.3,307.92 204.55,307.93 204.8,307.95 205.05,307.97 205.3,307.99 205.55,308.02 205.8,308.05 206.05,308.08 206.3,308.11 206.55,308.14 206.8,308.18 207.05,308.21 207.3,308.25 207.55,308.28 207.8,308.32 208.05,308.35 208.3,308.38 208.55,308.4 208.8,308.43 209.05,308.45 209.3,308.47 209.55,308.48 209.8,308.49 210.05,308.5 210.3,308.5" fill="none" stroke="#000" stroke-width="1.75" stroke-linejoin="round" stroke-linecap="round" />
<text transform="translate(0.5 257.1)" text-anchor="start" font-family='"Liberation Serif", serif' font-size="12.6" font-weight="bold" fill="#000"  id="t83">c</text>
<text transform="translate(9.3 356.2) rotate(-90)" text-anchor="start" font-family='"Liberation Sans", sans-serif' font-size="11.0" font-weight="normal" fill="#1a1a1a"  id="t84">Qubit population</text>
<text transform="translate(113.5 281.8) scale(0.95 1)" text-anchor="start" font-family='"Liberation Sans", sans-serif' font-size="12.0" font-weight="normal" fill="#1a1a1a" font-style="italic"  id="t85">B</text>
<line x1="122.5" y1="278.2" x2="122.5" y2="286.12" stroke="#666" stroke-width="0.8" />
<line x1="124.5" y1="278.2" x2="124.5" y2="286.12" stroke="#666" stroke-width="0.8" />
<text transform="translate(127.7 282.2) scale(1.12 1)" text-anchor="start" font-family='"Liberation Sans", sans-serif' font-size="13.5" font-weight="normal" fill="#1a1a1a"  id="t86">=</text>
<text transform="translate(140.4 281.8) scale(0.95 1)" text-anchor="start" font-family='"Liberation Sans", sans-serif' font-size="12" font-weight="normal" fill="#1a1a1a"  id="t87">1</text>
<text transform="translate(146.8 281.8) scale(0.95 1)" text-anchor="start" font-family='"Liberation Sans", sans-serif' font-size="12" font-weight="normal" fill="#1a1a1a"  id="t88">T</text>
<text transform="translate(113.1 339.6)" text-anchor="start" font-family='"Liberation Sans", sans-serif' font-size="12.3" font-weight="normal" fill="#1a1a1a" font-style="italic"  id="t89">f</text>
<text transform="translate(116.4 341.4) scale(0.87 1)" text-anchor="start" font-family='"Liberation Sans", sans-serif' font-size="8.6" font-weight="normal" fill="#1a1a1a"  id="t90">beating</text>
<text transform="translate(143.6 340) scale(1.12 1)" text-anchor="start" font-family='"Liberation Sans", sans-serif' font-size="13.5" font-weight="normal" fill="#1a1a1a"  id="t91">=</text>
<text transform="translate(156.4 339.6) scale(0.9 1)" text-anchor="start" font-family='"Liberation Sans", sans-serif' font-size="12" font-weight="normal" fill="#1a1a1a"  id="t92">0.54</text>
<text transform="translate(178.3 339.6) scale(0.9 1)" text-anchor="start" font-family='"Liberation Sans", sans-serif' font-size="12" font-weight="normal" fill="#1a1a1a"  id="t93">MHz</text>
<line x1="111.9" y1="333.8" x2="101.6" y2="317.2" stroke="#000" stroke-width="1.3" stroke-linecap="round"/>
<line x1="101.6" y1="317.2" x2="105.92" y2="319.71" stroke="#000" stroke-width="1.3" stroke-linecap="round"/>
<line x1="101.6" y1="317.2" x2="101.93" y2="322.19" stroke="#000" stroke-width="1.3" stroke-linecap="round"/>
<text transform="translate(119.6 383.1)" text-anchor="start" font-family='"Liberation Sans", sans-serif' font-size="12.3" font-weight="normal" fill="#1a1a1a" font-style="italic"  id="t94">t</text>
<text transform="translate(126.4 383.1) scale(0.9 1)" text-anchor="start" font-family='"Liberation Sans", sans-serif' font-size="12.2" font-weight="normal" fill="#1a1a1a"  id="t95">(µs)</text>
<rect x="511.4" y="138.1" width="170" height="91.8" fill="none" stroke="#000" stroke-width="1.3"/>
<line x1="519.15" y1="229.9" x2="519.15" y2="232.8" stroke="#000" stroke-width="1.05" />
<line x1="557.6" y1="229.9" x2="557.6" y2="234.8" stroke="#000" stroke-width="1.05" />
<line x1="596.05" y1="229.9" x2="596.05" y2="232.8" stroke="#000" stroke-width="1.05" />
<line x1="634.5" y1="229.9" x2="634.5" y2="234.8" stroke="#000" stroke-width="1.05" />
<line x1="672.95" y1="229.9" x2="672.95" y2="232.8" stroke="#000" stroke-width="1.05" />
<line x1="506.5" y1="227.3" x2="511.4" y2="227.3" stroke="#000" stroke-width="1.05" />
<line x1="508.5" y1="212.43" x2="511.4" y2="212.43" stroke="#000" stroke-width="1.05" />
<line x1="506.5" y1="197.56" x2="511.4" y2="197.56" stroke="#000" stroke-width="1.05" />
<line x1="508.5" y1="182.69" x2="511.4" y2="182.69" stroke="#000" stroke-width="1.05" />
<line x1="506.5" y1="167.82" x2="511.4" y2="167.82" stroke="#000" stroke-width="1.05" />
<line x1="508.5" y1="152.95" x2="511.4" y2="152.95" stroke="#000" stroke-width="1.05" />
<line x1="506.5" y1="138.08" x2="511.4" y2="138.08" stroke="#000" stroke-width="1.05" />
<text transform="translate(556.1 248.2) scale(0.9 1)" text-anchor="middle" font-family='"Liberation Sans", sans-serif' font-size="11.5" font-weight="normal" fill="#1a1a1a"  id="t96">0.49</text>
<text transform="translate(632.8 248.2) scale(0.9 1)" text-anchor="middle" font-family='"Liberation Sans", sans-serif' font-size="11.5" font-weight="normal" fill="#1a1a1a"  id="t97">0.51</text>
<text transform="translate(500 231.5) scale(0.9 1)" text-anchor="end" font-family='"Liberation Sans", sans-serif' font-size="11.5" font-weight="normal" fill="#1a1a1a"  id="t98">0.0</text>
<text transform="translate(500 201.76) scale(0.9 1)" text-anchor="end" font-family='"Liberation Sans", sans-serif' font-size="11.5" font-weight="normal" fill="#1a1a1a"  id="t99">0.2</text>
<text transform="translate(500 172.02) scale(0.9 1)" text-anchor="end" font-family='"Liberation Sans", sans-serif' font-size="11.5" font-weight="normal" fill="#1a1a1a"  id="t100">0.4</text>
<text transform="translate(500 142.28) scale(0.9 1)" text-anchor="end" font-family='"Liberation Sans", sans-serif' font-size="11.5" font-weight="normal" fill="#1a1a1a"  id="t101">0.6</text>
<text transform="translate(465.6 132.9)" text-anchor="start" font-family='"Liberation Serif", serif' font-size="12.6" font-weight="bold" fill="#000"  id="t102">f</text>
<text transform="translate(577.6 248.2) scale(0.85 1)" text-anchor="start" font-family='"Liberation Sans", sans-serif' font-size="12.2" font-weight="normal" fill="#1a1a1a" font-style="italic"  id="t103">Φ</text>
<text transform="translate(585.4 250.2) scale(0.9 1)" text-anchor="start" font-family='"Liberation Sans", sans-serif' font-size="8.3" font-weight="normal" fill="#444"  id="t104">ext</text>
<text transform="translate(594.6 249.6) scale(0.9 1)" text-anchor="start" font-family='"Liberation Sans", sans-serif' font-size="13.5" font-weight="normal" fill="#555"  id="t105">/</text>
<text transform="translate(601.8 248.2) scale(0.85 1)" text-anchor="start" font-family='"Liberation Sans", sans-serif' font-size="12.2" font-weight="normal" fill="#1a1a1a" font-style="italic"  id="t106">Φ</text>
<text transform="translate(609.6 250.6) scale(0.9 1)" text-anchor="start" font-family='"Liberation Sans", sans-serif' font-size="8.3" font-weight="normal" fill="#1a1a1a"  id="t107">0</text>
<text transform="translate(476.5 210.6) rotate(-90)" text-anchor="start" font-family='"Liberation Sans", sans-serif' font-size="12.6" font-weight="normal" fill="#1a1a1a" font-style="italic"  id="t108">Γ</text>
<text transform="translate(471.3 203.2) rotate(-90)" text-anchor="start" font-family='"Liberation Sans", sans-serif' font-size="8.0" font-weight="normal" fill="#1a1a1a"  id="t109">Φ</text>
<text transform="translate(479 203.9) rotate(-90) scale(0.76 1)" text-anchor="start" font-family='"Liberation Sans", sans-serif' font-size="8.3" font-weight="normal" fill="#1a1a1a"  id="t110">φE</text>
<text transform="translate(478 193.7) rotate(-90)" text-anchor="start" font-family='"Liberation Sans", sans-serif' font-size="13.2" font-weight="normal" fill="#1a1a1a"  id="t111">(</text>
<text transform="translate(477 188.4) rotate(-90) scale(0.78 1)" text-anchor="start" font-family='"Liberation Sans", sans-serif' font-size="12.6" font-weight="normal" fill="#1a1a1a"  id="t112">µs</text>
<text transform="translate(472 177.5) rotate(-90)" text-anchor="start" font-family='"Liberation Sans", sans-serif' font-size="8.3" font-weight="normal" fill="#1a1a1a"  id="t113">−1</text>
<text transform="translate(478 168) rotate(-90)" text-anchor="start" font-family='"Liberation Sans", sans-serif' font-size="13.2" font-weight="normal" fill="#1a1a1a"  id="t114">)</text>
<polyline points="519.1,198.5 595.8,227.6 674.1,197.3" fill="none" stroke="#66cc66" stroke-width="1.6" stroke-linejoin="round" stroke-linecap="round" stroke-dasharray="3.6 2.4" stroke-linecap="butt"/>
<polyline points="519,178.2 595.8,227.6 674.1,179.3" fill="none" stroke="#2ca02c" stroke-width="1.6" stroke-linejoin="round" stroke-linecap="round" stroke-dasharray="3.6 2.4" stroke-linecap="butt"/>
<polyline points="519,141.7 595.8,227.6 674.1,141.4" fill="none" stroke="#1d5e22" stroke-width="1.6" stroke-linejoin="round" stroke-linecap="round" stroke-dasharray="3.6 2.4" stroke-linecap="butt"/>
<g clip-path="url(#clipf)">
<line x1="526.3" y1="197.4" x2="526.3" y2="203.4" stroke="#66cc66" stroke-width="1.2" stroke-opacity="0.75"/>
<circle cx="526.3" cy="200.4" r="2.45" fill="#66cc66" />
<line x1="534" y1="198.6" x2="534" y2="204.6" stroke="#66cc66" stroke-width="1.2" stroke-opacity="0.75"/>
<circle cx="534" cy="201.6" r="2.45" fill="#66cc66" />
<line x1="538.4" y1="204" x2="538.4" y2="210" stroke="#66cc66" stroke-width="1.2" stroke-opacity="0.75"/>
<circle cx="538.4" cy="207" r="2.45" fill="#66cc66" />
<line x1="552.1" y1="205" x2="552.1" y2="213" stroke="#66cc66" stroke-width="1.2" stroke-opacity="0.75"/>
<circle cx="552.1" cy="209" r="2.45" fill="#66cc66" />
<line x1="556.8" y1="208.5" x2="556.8" y2="218.5" stroke="#66cc66" stroke-width="1.2" stroke-opacity="0.75"/>
<circle cx="556.8" cy="213.5" r="2.45" fill="#66cc66" />
<line x1="565.3" y1="217.3" x2="565.3" y2="231.3" stroke="#66cc66" stroke-width="1.2" stroke-opacity="0.75"/>
<circle cx="565.3" cy="224.3" r="2.45" fill="#66cc66" />
<line x1="572.7" y1="207.8" x2="572.7" y2="219.8" stroke="#66cc66" stroke-width="1.2" stroke-opacity="0.75"/>
<circle cx="572.7" cy="213.8" r="2.45" fill="#66cc66" />
<line x1="580.8" y1="213.6" x2="580.8" y2="225.6" stroke="#66cc66" stroke-width="1.2" stroke-opacity="0.75"/>
<circle cx="580.8" cy="219.6" r="2.45" fill="#66cc66" />
<line x1="591.5" y1="212.9" x2="591.5" y2="224.9" stroke="#66cc66" stroke-width="1.2" stroke-opacity="0.75"/>
<circle cx="591.5" cy="218.9" r="2.45" fill="#66cc66" />
<line x1="599.6" y1="214.6" x2="599.6" y2="224.6" stroke="#66cc66" stroke-width="1.2" stroke-opacity="0.75"/>
<circle cx="599.6" cy="219.6" r="2.45" fill="#66cc66" />
<line x1="607.6" y1="217.2" x2="607.6" y2="227.2" stroke="#66cc66" stroke-width="1.2" stroke-opacity="0.75"/>
<circle cx="607.6" cy="222.2" r="2.45" fill="#66cc66" />
<line x1="611.6" y1="222" x2="611.6" y2="232" stroke="#66cc66" stroke-width="1.2" stroke-opacity="0.75"/>
<circle cx="611.6" cy="227" r="2.45" fill="#66cc66" />
<line x1="619.7" y1="214.9" x2="619.7" y2="222.9" stroke="#66cc66" stroke-width="1.2" stroke-opacity="0.75"/>
<circle cx="619.7" cy="218.9" r="2.45" fill="#66cc66" />
<line x1="627" y1="213.9" x2="627" y2="219.9" stroke="#66cc66" stroke-width="1.2" stroke-opacity="0.75"/>
<circle cx="627" cy="216.9" r="2.45" fill="#66cc66" />
<line x1="629.6" y1="212.6" x2="629.6" y2="218.6" stroke="#66cc66" stroke-width="1.2" stroke-opacity="0.75"/>
<circle cx="629.6" cy="215.6" r="2.45" fill="#66cc66" />
<line x1="638.3" y1="209.9" x2="638.3" y2="217.9" stroke="#66cc66" stroke-width="1.2" stroke-opacity="0.75"/>
<circle cx="638.3" cy="213.9" r="2.45" fill="#66cc66" />
<line x1="646.4" y1="201.7" x2="646.4" y2="207.7" stroke="#66cc66" stroke-width="1.2" stroke-opacity="0.75"/>
<circle cx="646.4" cy="204.7" r="2.45" fill="#66cc66" />
<line x1="656.8" y1="199.8" x2="656.8" y2="205.8" stroke="#66cc66" stroke-width="1.2" stroke-opacity="0.75"/>
<circle cx="656.8" cy="202.8" r="2.45" fill="#66cc66" />
<line x1="526.8" y1="185" x2="526.8" y2="191" stroke="#2ca02c" stroke-width="1.2" stroke-opacity="0.75"/>
<circle cx="526.8" cy="188" r="2.45" fill="#2ca02c" />
<line x1="534.2" y1="182.2" x2="534.2" y2="190.2" stroke="#2ca02c" stroke-width="1.2" stroke-opacity="0.75"/>
<circle cx="534.2" cy="186.2" r="2.45" fill="#2ca02c" />
<line x1="538.2" y1="189.4" x2="538.2" y2="195.4" stroke="#2ca02c" stroke-width="1.2" stroke-opacity="0.75"/>
<circle cx="538.2" cy="192.4" r="2.45" fill="#2ca02c" />
<line x1="546.2" y1="187.4" x2="546.2" y2="193.4" stroke="#2ca02c" stroke-width="1.2" stroke-opacity="0.75"/>
<circle cx="546.2" cy="190.4" r="2.45" fill="#2ca02c" />
<line x1="554" y1="199.5" x2="554" y2="207.5" stroke="#2ca02c" stroke-width="1.2" stroke-opacity="0.75"/>
<circle cx="554" cy="203.5" r="2.45" fill="#2ca02c" />
<line x1="557.5" y1="202.8" x2="557.5" y2="214.8" stroke="#2ca02c" stroke-width="1.2" stroke-opacity="0.75"/>
<circle cx="557.5" cy="208.8" r="2.45" fill="#2ca02c" />
<line x1="565.4" y1="197.8" x2="565.4" y2="207.8" stroke="#2ca02c" stroke-width="1.2" stroke-opacity="0.75"/>
<circle cx="565.4" cy="202.8" r="2.45" fill="#2ca02c" />
<line x1="573.4" y1="205.2" x2="573.4" y2="215.2" stroke="#2ca02c" stroke-width="1.2" stroke-opacity="0.75"/>
<circle cx="573.4" cy="210.2" r="2.45" fill="#2ca02c" />
<line x1="580.8" y1="211.9" x2="580.8" y2="225.9" stroke="#2ca02c" stroke-width="1.2" stroke-opacity="0.75"/>
<circle cx="580.8" cy="218.9" r="2.45" fill="#2ca02c" />
<line x1="592.2" y1="223.3" x2="592.2" y2="233.3" stroke="#2ca02c" stroke-width="1.2" stroke-opacity="0.75"/>
<circle cx="592.2" cy="228.3" r="2.45" fill="#2ca02c" />
<line x1="600" y1="221" x2="600" y2="231" stroke="#2ca02c" stroke-width="1.2" stroke-opacity="0.75"/>
<circle cx="600" cy="226" r="2.45" fill="#2ca02c" />
<line x1="607.6" y1="213.2" x2="607.6" y2="223.2" stroke="#2ca02c" stroke-width="1.2" stroke-opacity="0.75"/>
<circle cx="607.6" cy="218.2" r="2.45" fill="#2ca02c" />
<line x1="611.6" y1="216.6" x2="611.6" y2="226.6" stroke="#2ca02c" stroke-width="1.2" stroke-opacity="0.75"/>
<circle cx="611.6" cy="221.6" r="2.45" fill="#2ca02c" />
<line x1="619.7" y1="207.5" x2="619.7" y2="215.5" stroke="#2ca02c" stroke-width="1.2" stroke-opacity="0.75"/>
<circle cx="619.7" cy="211.5" r="2.45" fill="#2ca02c" />
<line x1="627.6" y1="198.8" x2="627.6" y2="206.8" stroke="#2ca02c" stroke-width="1.2" stroke-opacity="0.75"/>
<circle cx="627.6" cy="202.8" r="2.45" fill="#2ca02c" />
<line x1="639" y1="196.5" x2="639" y2="206.5" stroke="#2ca02c" stroke-width="1.2" stroke-opacity="0.75"/>
<circle cx="639" cy="201.5" r="2.45" fill="#2ca02c" />
<line x1="646.9" y1="192.3" x2="646.9" y2="198.3" stroke="#2ca02c" stroke-width="1.2" stroke-opacity="0.75"/>
<circle cx="646.9" cy="195.3" r="2.45" fill="#2ca02c" />
<line x1="654.3" y1="189.4" x2="654.3" y2="195.4" stroke="#2ca02c" stroke-width="1.2" stroke-opacity="0.75"/>
<circle cx="654.3" cy="192.4" r="2.45" fill="#2ca02c" />
<line x1="658.8" y1="183.7" x2="658.8" y2="189.7" stroke="#2ca02c" stroke-width="1.2" stroke-opacity="0.75"/>
<circle cx="658.8" cy="186.7" r="2.45" fill="#2ca02c" />
<line x1="534.7" y1="151.3" x2="534.7" y2="159.3" stroke="#1d5e22" stroke-width="1.2" stroke-opacity="0.75"/>
<circle cx="534.7" cy="155.3" r="2.45" fill="#1d5e22" />
<line x1="539.2" y1="163.2" x2="539.2" y2="169.2" stroke="#1d5e22" stroke-width="1.2" stroke-opacity="0.75"/>
<circle cx="539.2" cy="166.2" r="2.45" fill="#1d5e22" />
<line x1="546.6" y1="168.1" x2="546.6" y2="174.1" stroke="#1d5e22" stroke-width="1.2" stroke-opacity="0.75"/>
<circle cx="546.6" cy="171.1" r="2.45" fill="#1d5e22" />
<line x1="554.5" y1="179.4" x2="554.5" y2="185.4" stroke="#1d5e22" stroke-width="1.2" stroke-opacity="0.75"/>
<circle cx="554.5" cy="182.4" r="2.45" fill="#1d5e22" />
<line x1="561.9" y1="188.4" x2="561.9" y2="196.4" stroke="#1d5e22" stroke-width="1.2" stroke-opacity="0.75"/>
<circle cx="561.9" cy="192.4" r="2.45" fill="#1d5e22" />
<line x1="565.6" y1="186.9" x2="565.6" y2="198.9" stroke="#1d5e22" stroke-width="1.2" stroke-opacity="0.75"/>
<circle cx="565.6" cy="192.9" r="2.45" fill="#1d5e22" />
<line x1="573.6" y1="194.6" x2="573.6" y2="200.6" stroke="#1d5e22" stroke-width="1.2" stroke-opacity="0.75"/>
<circle cx="573.6" cy="197.6" r="2.45" fill="#1d5e22" />
<line x1="584.8" y1="209.2" x2="584.8" y2="219.2" stroke="#1d5e22" stroke-width="1.2" stroke-opacity="0.75"/>
<circle cx="584.8" cy="214.2" r="2.45" fill="#1d5e22" />
<line x1="588.8" y1="213.9" x2="588.8" y2="223.9" stroke="#1d5e22" stroke-width="1.2" stroke-opacity="0.75"/>
<circle cx="588.8" cy="218.9" r="2.45" fill="#1d5e22" />
<line x1="592.9" y1="218.6" x2="592.9" y2="232.6" stroke="#1d5e22" stroke-width="1.2" stroke-opacity="0.75"/>
<circle cx="592.9" cy="225.6" r="2.45" fill="#1d5e22" />
<line x1="600.2" y1="222.3" x2="600.2" y2="230.3" stroke="#1d5e22" stroke-width="1.2" stroke-opacity="0.75"/>
<circle cx="600.2" cy="226.3" r="2.45" fill="#1d5e22" />
<line x1="607.6" y1="205.2" x2="607.6" y2="211.2" stroke="#1d5e22" stroke-width="1.2" stroke-opacity="0.75"/>
<circle cx="607.6" cy="208.2" r="2.45" fill="#1d5e22" />
<line x1="611.6" y1="203.2" x2="611.6" y2="213.2" stroke="#1d5e22" stroke-width="1.2" stroke-opacity="0.75"/>
<circle cx="611.6" cy="208.2" r="2.45" fill="#1d5e22" />
<line x1="620.1" y1="194" x2="620.1" y2="204" stroke="#1d5e22" stroke-width="1.2" stroke-opacity="0.75"/>
<circle cx="620.1" cy="199" r="2.45" fill="#1d5e22" />
<line x1="627.6" y1="189.4" x2="627.6" y2="197.4" stroke="#1d5e22" stroke-width="1.2" stroke-opacity="0.75"/>
<circle cx="627.6" cy="193.4" r="2.45" fill="#1d5e22" />
<line x1="635.8" y1="189.4" x2="635.8" y2="195.4" stroke="#1d5e22" stroke-width="1.2" stroke-opacity="0.75"/>
<circle cx="635.8" cy="192.4" r="2.45" fill="#1d5e22" />
<line x1="639.5" y1="177" x2="639.5" y2="183" stroke="#1d5e22" stroke-width="1.2" stroke-opacity="0.75"/>
<circle cx="639.5" cy="180" r="2.45" fill="#1d5e22" />
<line x1="646.9" y1="169.6" x2="646.9" y2="175.6" stroke="#1d5e22" stroke-width="1.2" stroke-opacity="0.75"/>
<circle cx="646.9" cy="172.6" r="2.45" fill="#1d5e22" />
<line x1="654.8" y1="162.2" x2="654.8" y2="168.2" stroke="#1d5e22" stroke-width="1.2" stroke-opacity="0.75"/>
<circle cx="654.8" cy="165.2" r="2.45" fill="#1d5e22" />
<line x1="663" y1="142.4" x2="663" y2="150.4" stroke="#1d5e22" stroke-width="1.2" stroke-opacity="0.75"/>
<circle cx="663" cy="146.4" r="2.45" fill="#1d5e22" />
<line x1="666.7" y1="140.1" x2="666.7" y2="154.1" stroke="#1d5e22" stroke-width="1.2" stroke-opacity="0.75"/>
<circle cx="666.7" cy="147.1" r="2.45" fill="#1d5e22" />
</g>
<clipPath id="clipf"><rect x="511.4" y="138.1" width="170" height="91.8"/></clipPath>
<rect x="570.4" y="139.6" width="51.6" height="53.5" rx="2.5" ry="2.5" fill="#fff" fill-opacity="0.85" stroke="#d6d6d6" stroke-width="1"/>
<line x1="578.5" y1="142.4" x2="578.5" y2="154.8" stroke="#1d5e22" stroke-width="1.2" stroke-opacity="0.75"/>
<circle cx="578.5" cy="148.6" r="2.7" fill="#1d5e22" />
<text transform="translate(590.8 152.9) scale(0.93 1)" text-anchor="start" font-family='"Liberation Sans", sans-serif' font-size="12" font-weight="normal" fill="#1a1a1a"  id="t115">0 T</text>
<line x1="578.5" y1="159.3" x2="578.5" y2="171.7" stroke="#2ca02c" stroke-width="1.2" stroke-opacity="0.75"/>
<circle cx="578.5" cy="165.5" r="2.7" fill="#2ca02c" />
<text transform="translate(590.8 169.8) scale(0.93 1)" text-anchor="start" font-family='"Liberation Sans", sans-serif' font-size="12" font-weight="normal" fill="#1a1a1a"  id="t116">0.3 T</text>
<line x1="578.5" y1="176" x2="578.5" y2="188.4" stroke="#66cc66" stroke-width="1.2" stroke-opacity="0.75"/>
<circle cx="578.5" cy="182.2" r="2.7" fill="#66cc66" />
<text transform="translate(590.8 186.5) scale(0.93 1)" text-anchor="start" font-family='"Liberation Sans", sans-serif' font-size="12" font-weight="normal" fill="#1a1a1a"  id="t117">0.6 T</text>
<rect x="511.5" y="262.4" width="170" height="91.7" fill="none" stroke="#000" stroke-width="1.3"/>
<line x1="519" y1="354.1" x2="519" y2="359" stroke="#000" stroke-width="1.05" />
<line x1="544.8" y1="354.1" x2="544.8" y2="357" stroke="#000" stroke-width="1.05" />
<line x1="570.6" y1="354.1" x2="570.6" y2="359" stroke="#000" stroke-width="1.05" />
<line x1="596.4" y1="354.1" x2="596.4" y2="357" stroke="#000" stroke-width="1.05" />
<line x1="622.2" y1="354.1" x2="622.2" y2="359" stroke="#000" stroke-width="1.05" />
<line x1="648" y1="354.1" x2="648" y2="357" stroke="#000" stroke-width="1.05" />
<line x1="673.8" y1="354.1" x2="673.8" y2="359" stroke="#000" stroke-width="1.05" />
<line x1="506.6" y1="342.3" x2="511.5" y2="342.3" stroke="#000" stroke-width="1.05" />
<line x1="508.6" y1="330.1" x2="511.5" y2="330.1" stroke="#000" stroke-width="1.05" />
<line x1="506.6" y1="317.9" x2="511.5" y2="317.9" stroke="#000" stroke-width="1.05" />
<line x1="508.6" y1="305.7" x2="511.5" y2="305.7" stroke="#000" stroke-width="1.05" />
<line x1="506.6" y1="293.5" x2="511.5" y2="293.5" stroke="#000" stroke-width="1.05" />
<line x1="508.6" y1="281.3" x2="511.5" y2="281.3" stroke="#000" stroke-width="1.05" />
<line x1="506.6" y1="269.1" x2="511.5" y2="269.1" stroke="#000" stroke-width="1.05" />
<text transform="translate(518.3 372.4) scale(0.9 1)" text-anchor="middle" font-family='"Liberation Sans", sans-serif' font-size="11.5" font-weight="normal" fill="#1a1a1a"  id="t118">0.0</text>
<text transform="translate(569.9 372.4) scale(0.9 1)" text-anchor="middle" font-family='"Liberation Sans", sans-serif' font-size="11.5" font-weight="normal" fill="#1a1a1a"  id="t119">0.4</text>
<text transform="translate(621.5 372.4) scale(0.9 1)" text-anchor="middle" font-family='"Liberation Sans", sans-serif' font-size="11.5" font-weight="normal" fill="#1a1a1a"  id="t120">0.8</text>
<text transform="translate(673.1 372.4) scale(0.9 1)" text-anchor="middle" font-family='"Liberation Sans", sans-serif' font-size="11.5" font-weight="normal" fill="#1a1a1a"  id="t121">1.2</text>
<text transform="translate(500.5 346.5) scale(0.9 1)" text-anchor="end" font-family='"Liberation Sans", sans-serif' font-size="11.5" font-weight="normal" fill="#1a1a1a"  id="t122">10</text>
<text transform="translate(500.5 322.1) scale(0.9 1)" text-anchor="end" font-family='"Liberation Sans", sans-serif' font-size="11.5" font-weight="normal" fill="#1a1a1a"  id="t123">20</text>
<text transform="translate(500.5 297.7) scale(0.9 1)" text-anchor="end" font-family='"Liberation Sans", sans-serif' font-size="11.5" font-weight="normal" fill="#1a1a1a"  id="t124">30</text>
<text transform="translate(500.5 273.3) scale(0.9 1)" text-anchor="end" font-family='"Liberation Sans", sans-serif' font-size="11.5" font-weight="normal" fill="#1a1a1a"  id="t125">40</text>
<text transform="translate(465.4 257)" text-anchor="start" font-family='"Liberation Serif", serif' font-size="12.6" font-weight="bold" fill="#000"  id="t126">g</text>
<text transform="translate(580 383.6) scale(0.95 1)" text-anchor="start" font-family='"Liberation Sans", sans-serif' font-size="12.0" font-weight="normal" fill="#1a1a1a" font-style="italic"  id="t127">B</text>
<line x1="588.5" y1="380" x2="588.5" y2="387.92" stroke="#666" stroke-width="0.8" />
<line x1="590.5" y1="380" x2="590.5" y2="387.92" stroke="#666" stroke-width="0.8" />
<text transform="translate(593.4 383.6) scale(0.95 1)" text-anchor="start" font-family='"Liberation Sans", sans-serif' font-size="12.8" font-weight="normal" fill="#1a1a1a"  id="t128">(T)</text>
<polyline points="477.9,334 477,332.6 481.9,329.8 471.9,325.3 471.9,312.2" fill="none" stroke="#1a1a1a" stroke-width="0.95" stroke-linejoin="round" stroke-linecap="round" />
<line x1="477" y1="332.6" x2="481.9" y2="329.8" stroke="#1a1a1a" stroke-width="1.5" />
<text transform="translate(482 326.6) rotate(-90)" text-anchor="start" font-family='"Liberation Sans", sans-serif' font-size="12.0" font-weight="normal" fill="#1a1a1a" font-style="italic"  id="t129">A</text>
<text transform="translate(483.6 318.6) rotate(-90) scale(0.72 1)" text-anchor="start" font-family='"Liberation Sans", sans-serif' font-size="7.5" font-weight="normal" fill="#1a1a1a"  id="t130">Φ</text>
<text transform="translate(481.6 312.2) rotate(-90) scale(0.9 1)" text-anchor="start" font-family='"Liberation Sans", sans-serif' font-size="12.0" font-weight="normal" fill="#1a1a1a"  id="t131">(µΦ</text>
<text transform="translate(483.8 294.6) rotate(-90)" text-anchor="start" font-family='"Liberation Sans", sans-serif' font-size="8.2" font-weight="normal" fill="#1a1a1a"  id="t132">0</text>
<text transform="translate(481.8 290) rotate(-90) scale(0.9 1)" text-anchor="start" font-family='"Liberation Sans", sans-serif' font-size="12.0" font-weight="normal" fill="#1a1a1a"  id="t133">)</text>
<g clip-path="url(#clipg)">
<line x1="519" y1="262" x2="519" y2="322" stroke="#2ca02c" stroke-width="1.6" stroke-opacity="0.28"/>
<line x1="520.7" y1="262" x2="520.7" y2="318" stroke="#2ca02c" stroke-width="1.6" stroke-opacity="0.28"/>
<line x1="522.6" y1="262" x2="522.6" y2="312" stroke="#2ca02c" stroke-width="1.6" stroke-opacity="0.28"/>
<line x1="524.9" y1="262" x2="524.9" y2="330" stroke="#2ca02c" stroke-width="1.6" stroke-opacity="0.28"/>
<line x1="527" y1="262" x2="527" y2="322" stroke="#2ca02c" stroke-width="1.6" stroke-opacity="0.28"/>
<line x1="528" y1="262" x2="528" y2="318" stroke="#2ca02c" stroke-width="1.6" stroke-opacity="0.28"/>
<line x1="533.1" y1="262" x2="533.1" y2="327" stroke="#2ca02c" stroke-width="1.6" stroke-opacity="0.28"/>
<line x1="533.5" y1="268" x2="533.5" y2="330" stroke="#2ca02c" stroke-width="1.6" stroke-opacity="0.28"/>
<line x1="534" y1="275" x2="534" y2="332" stroke="#2ca02c" stroke-width="1.6" stroke-opacity="0.28"/>
<line x1="534.2" y1="280" x2="534.2" y2="330" stroke="#2ca02c" stroke-width="1.6" stroke-opacity="0.28"/>
<line x1="537.9" y1="292" x2="537.9" y2="318" stroke="#2ca02c" stroke-width="1.6" stroke-opacity="0.28"/>
<line x1="542" y1="284.5" x2="542" y2="348" stroke="#2ca02c" stroke-width="1.6" stroke-opacity="0.28"/>
<line x1="546.2" y1="280.7" x2="546.2" y2="343" stroke="#2ca02c" stroke-width="1.6" stroke-opacity="0.28"/>
<line x1="549.9" y1="292.3" x2="549.9" y2="331" stroke="#2ca02c" stroke-width="1.6" stroke-opacity="0.28"/>
<line x1="553.8" y1="300" x2="553.8" y2="330" stroke="#2ca02c" stroke-width="1.6" stroke-opacity="0.28"/>
<line x1="557.6" y1="288.4" x2="557.6" y2="336" stroke="#2ca02c" stroke-width="1.6" stroke-opacity="0.28"/>
<line x1="561.5" y1="298" x2="561.5" y2="343" stroke="#2ca02c" stroke-width="1.6" stroke-opacity="0.28"/>
<line x1="565.5" y1="300" x2="565.5" y2="339" stroke="#2ca02c" stroke-width="1.6" stroke-opacity="0.28"/>
<line x1="569.4" y1="312" x2="569.4" y2="332" stroke="#2ca02c" stroke-width="1.6" stroke-opacity="0.28"/>
<line x1="573.2" y1="313" x2="573.2" y2="349" stroke="#2ca02c" stroke-width="1.6" stroke-opacity="0.28"/>
<line x1="576.9" y1="308" x2="576.9" y2="340" stroke="#2ca02c" stroke-width="1.6" stroke-opacity="0.28"/>
<line x1="581.1" y1="310" x2="581.1" y2="353" stroke="#2ca02c" stroke-width="1.6" stroke-opacity="0.28"/>
<line x1="585.1" y1="316" x2="585.1" y2="346" stroke="#2ca02c" stroke-width="1.6" stroke-opacity="0.28"/>
<line x1="588.8" y1="307" x2="588.8" y2="343" stroke="#2ca02c" stroke-width="1.6" stroke-opacity="0.28"/>
<line x1="592.7" y1="318" x2="592.7" y2="350" stroke="#2ca02c" stroke-width="1.6" stroke-opacity="0.28"/>
<line x1="596.5" y1="319" x2="596.5" y2="349" stroke="#2ca02c" stroke-width="1.6" stroke-opacity="0.28"/>
<line x1="600.4" y1="314" x2="600.4" y2="340" stroke="#2ca02c" stroke-width="1.6" stroke-opacity="0.28"/>
<line x1="604.4" y1="316" x2="604.4" y2="347" stroke="#2ca02c" stroke-width="1.6" stroke-opacity="0.28"/>
<line x1="607.9" y1="320" x2="607.9" y2="336" stroke="#2ca02c" stroke-width="1.6" stroke-opacity="0.28"/>
<line x1="612" y1="313" x2="612" y2="346" stroke="#2ca02c" stroke-width="1.6" stroke-opacity="0.28"/>
<line x1="615.8" y1="309" x2="615.8" y2="352" stroke="#2ca02c" stroke-width="1.6" stroke-opacity="0.28"/>
<line x1="619.7" y1="311" x2="619.7" y2="353" stroke="#2ca02c" stroke-width="1.6" stroke-opacity="0.28"/>
<line x1="623.7" y1="328" x2="623.7" y2="356" stroke="#2ca02c" stroke-width="1.6" stroke-opacity="0.28"/>
<line x1="627.5" y1="311" x2="627.5" y2="356" stroke="#2ca02c" stroke-width="1.6" stroke-opacity="0.28"/>
<line x1="631.2" y1="324" x2="631.2" y2="353" stroke="#2ca02c" stroke-width="1.6" stroke-opacity="0.28"/>
<line x1="635.1" y1="304" x2="635.1" y2="350" stroke="#2ca02c" stroke-width="1.6" stroke-opacity="0.28"/>
<line x1="638.9" y1="328" x2="638.9" y2="356" stroke="#2ca02c" stroke-width="1.6" stroke-opacity="0.28"/>
<line x1="643" y1="316" x2="643" y2="355" stroke="#2ca02c" stroke-width="1.6" stroke-opacity="0.28"/>
<line x1="646.8" y1="298" x2="646.8" y2="348" stroke="#2ca02c" stroke-width="1.6" stroke-opacity="0.28"/>
<line x1="650.7" y1="288" x2="650.7" y2="347" stroke="#2ca02c" stroke-width="1.6" stroke-opacity="0.28"/>
<line x1="654.7" y1="299" x2="654.7" y2="336" stroke="#2ca02c" stroke-width="1.6" stroke-opacity="0.28"/>
<line x1="658.4" y1="314" x2="658.4" y2="348" stroke="#2ca02c" stroke-width="1.6" stroke-opacity="0.28"/>
<line x1="666.1" y1="305" x2="666.1" y2="332" stroke="#2ca02c" stroke-width="1.6" stroke-opacity="0.28"/>
<line x1="673.8" y1="288" x2="673.8" y2="311" stroke="#2ca02c" stroke-width="1.6" stroke-opacity="0.28"/>
</g>
<clipPath id="clipg"><rect x="511.5" y="262.4" width="170" height="91.7"/></clipPath>
<polyline points="519,283.4 522,284.6 525,286.6 528,289.8 531,294 534,298.8 537,303.4 540,307.2 543,310.4 548.5,315.6 554.3,319.8 561.5,324 570,327.2 580,329.4 590,330.6 600,331.3 620,331.9 648.2,332.1" fill="none" stroke="#000" stroke-width="1.6" stroke-linejoin="round" stroke-linecap="round" stroke-dasharray="4.2 2.6" stroke-linecap="butt"/>
<circle cx="519" cy="276" r="2.2" fill="#2ca02c" />
<circle cx="520.7" cy="285.8" r="2.2" fill="#2ca02c" />
<circle cx="522.6" cy="281.8" r="2.2" fill="#2ca02c" />
<circle cx="524.9" cy="281" r="2.2" fill="#2ca02c" />
<circle cx="527" cy="286" r="2.2" fill="#2ca02c" />
<circle cx="528" cy="296" r="2.2" fill="#2ca02c" />
<circle cx="533.1" cy="287.7" r="2.2" fill="#2ca02c" />
<circle cx="533.5" cy="296.1" r="2.2" fill="#2ca02c" />
<circle cx="534" cy="301" r="2.2" fill="#2ca02c" />
<circle cx="534.2" cy="308.8" r="2.2" fill="#2ca02c" />
<circle cx="537.9" cy="307.3" r="2.2" fill="#2ca02c" />
<circle cx="542" cy="317" r="2.2" fill="#2ca02c" />
<circle cx="546.2" cy="311.8" r="2.2" fill="#2ca02c" />
<circle cx="549.9" cy="311.8" r="2.2" fill="#2ca02c" />
<circle cx="553.8" cy="311.8" r="2.2" fill="#2ca02c" />
<circle cx="557.6" cy="311.8" r="2.2" fill="#2ca02c" />
<circle cx="561.5" cy="319.9" r="2.2" fill="#2ca02c" />
<circle cx="565.5" cy="319.5" r="2.2" fill="#2ca02c" />
<circle cx="569.4" cy="322.9" r="2.2" fill="#2ca02c" />
<circle cx="573.2" cy="331.7" r="2.2" fill="#2ca02c" />
<circle cx="576.9" cy="326.8" r="2.2" fill="#2ca02c" />
<circle cx="581.1" cy="334.1" r="2.2" fill="#2ca02c" />
<circle cx="585.1" cy="331.2" r="2.2" fill="#2ca02c" />
<circle cx="588.8" cy="327.7" r="2.2" fill="#2ca02c" />
<circle cx="592.7" cy="332.6" r="2.2" fill="#2ca02c" />
<circle cx="596.5" cy="334.3" r="2.2" fill="#2ca02c" />
<circle cx="600.4" cy="327.1" r="2.2" fill="#2ca02c" />
<circle cx="604.4" cy="331.7" r="2.2" fill="#2ca02c" />
<circle cx="607.9" cy="327.7" r="2.2" fill="#2ca02c" />
<circle cx="612" cy="328.9" r="2.2" fill="#2ca02c" />
<circle cx="615.8" cy="330.6" r="2.2" fill="#2ca02c" />
<circle cx="619.7" cy="334.7" r="2.2" fill="#2ca02c" />
<circle cx="623.7" cy="344.3" r="2.2" fill="#2ca02c" />
<circle cx="627.5" cy="332" r="2.2" fill="#2ca02c" />
<circle cx="631.2" cy="340.5" r="2.2" fill="#2ca02c" />
<circle cx="635.1" cy="329.4" r="2.2" fill="#2ca02c" />
<circle cx="638.9" cy="345.2" r="2.2" fill="#2ca02c" />
<circle cx="643" cy="335.9" r="2.2" fill="#2ca02c" />
<circle cx="646.8" cy="322.4" r="2.2" fill="#2ca02c" />
<circle cx="650.7" cy="317.2" r="2.2" fill="#2ca02c" />
<circle cx="654.7" cy="317.5" r="2.2" fill="#2ca02c" />
<circle cx="658.4" cy="331.2" r="2.2" fill="#2ca02c" />
<circle cx="666.1" cy="318.9" r="2.2" fill="#2ca02c" />
<circle cx="673.8" cy="297.9" r="2.2" fill="#2ca02c" />
<rect x="580.6" y="268.4" width="95.3" height="20.2" rx="2.5" ry="2.5" fill="#fff" fill-opacity="0.85" stroke="#d6d6d6" stroke-width="1"/>
<line x1="585" y1="276.9" x2="590" y2="276.9" stroke="#000" stroke-width="1.6" />
<line x1="592.8" y1="276.9" x2="597.8" y2="276.9" stroke="#000" stroke-width="1.6" />
<text transform="translate(608.2 281.7)" text-anchor="start" font-family='"Liberation Sans", sans-serif' font-size="12.3" font-weight="normal" fill="#1a1a1a" font-style="italic"  id="t134">T</text>
<text transform="translate(614.9 283.8) scale(0.95 1)" text-anchor="start" font-family='"Liberation Sans", sans-serif' font-size="8.6" font-weight="normal" fill="#1a1a1a"  id="t135">S</text>
<text transform="translate(622.7 282.1) scale(1.12 1)" text-anchor="start" font-family='"Liberation Sans", sans-serif' font-size="13.5" font-weight="normal" fill="#1a1a1a"  id="t136">=</text>
<text transform="translate(634.8 281.7) scale(0.9 1)" text-anchor="start" font-family='"Liberation Sans", sans-serif' font-size="12" font-weight="normal" fill="#1a1a1a"  id="t137">85</text>
<text transform="translate(648.5 281.7) scale(0.93 1)" text-anchor="start" font-family='"Liberation Sans", sans-serif' font-size="12" font-weight="normal" fill="#1a1a1a"  id="t138">mK</text>
</svg></body></html>
